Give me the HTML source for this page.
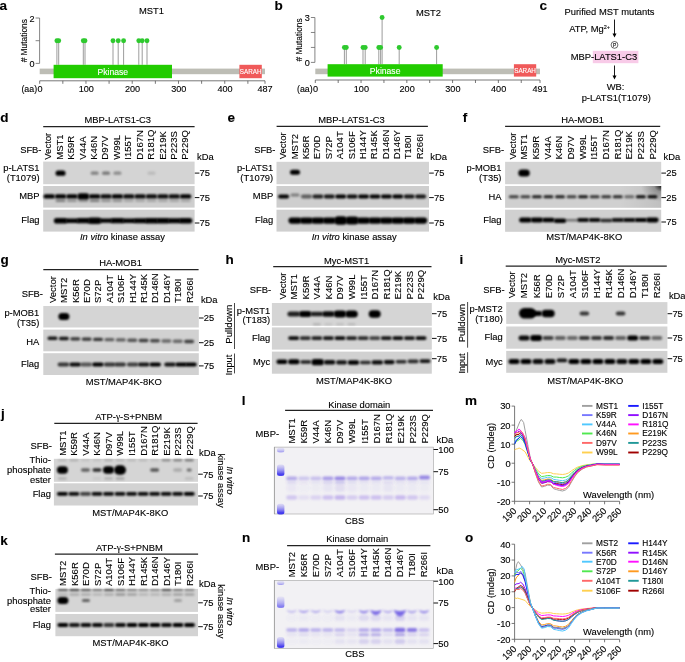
<!DOCTYPE html>
<html><head><meta charset="utf-8"><style>
html,body{margin:0;padding:0;background:#fff;width:685px;height:662px;overflow:hidden}
svg{display:block;filter:blur(0.3px)}
text{font-family:"Liberation Sans", sans-serif; stroke:#000; stroke-width:0.12px}
.w{stroke:#fff}
</style></head><body>
<svg width="685" height="662" viewBox="0 0 685 662" font-family='"Liberation Sans", sans-serif'>
<defs><linearGradient id="ladg" x1="0" y1="0" x2="0" y2="1"><stop offset="0" stop-color="#9a94f2" stop-opacity="0.25"/><stop offset="0.55" stop-color="#6a60ee" stop-opacity="0.75"/><stop offset="0.85" stop-color="#3c34ee" stop-opacity="1"/><stop offset="1" stop-color="#3c34ee" stop-opacity="0.9"/></linearGradient><filter id="b0_4" x="-50%" y="-100%" width="200%" height="300%"><feGaussianBlur stdDeviation="0.4"/></filter><filter id="b0_5" x="-50%" y="-100%" width="200%" height="300%"><feGaussianBlur stdDeviation="0.5"/></filter><filter id="b0_6" x="-50%" y="-100%" width="200%" height="300%"><feGaussianBlur stdDeviation="0.6"/></filter><filter id="b0_7" x="-50%" y="-100%" width="200%" height="300%"><feGaussianBlur stdDeviation="0.7"/></filter><filter id="b0_8" x="-50%" y="-100%" width="200%" height="300%"><feGaussianBlur stdDeviation="0.8"/></filter><filter id="b0_9" x="-50%" y="-100%" width="200%" height="300%"><feGaussianBlur stdDeviation="0.9"/></filter><filter id="b1_0" x="-50%" y="-100%" width="200%" height="300%"><feGaussianBlur stdDeviation="1.0"/></filter><filter id="b1_2" x="-50%" y="-100%" width="200%" height="300%"><feGaussianBlur stdDeviation="1.2"/></filter><filter id="b1_3" x="-50%" y="-100%" width="200%" height="300%"><feGaussianBlur stdDeviation="1.3"/></filter><filter id="b1_6" x="-50%" y="-100%" width="200%" height="300%"><feGaussianBlur stdDeviation="1.6"/></filter><filter id="b2_0" x="-50%" y="-100%" width="200%" height="300%"><feGaussianBlur stdDeviation="2.0"/></filter><radialGradient id="cornerF" cx="1" cy="0" r="1"><stop offset="0" stop-color="#000" stop-opacity="0.85"/><stop offset="0.35" stop-color="#000" stop-opacity="0.25"/><stop offset="1" stop-color="#000" stop-opacity="0"/></radialGradient><linearGradient id="shadeF" x1="0" y1="0" x2="1" y2="0"><stop offset="0" stop-color="#000" stop-opacity="0"/><stop offset="1" stop-color="#000" stop-opacity="0.08"/></linearGradient></defs>
<rect width="685" height="662" fill="#fff"/>
<text x="-0.50" y="9.60" font-size="13.5" font-weight="bold">a</text>
<text x="151.50" y="13.88" font-size="9.4" text-anchor="middle" fill="#000">MST1</text>
<line x1="39.60" y1="18.00" x2="39.60" y2="63.40" stroke="#666" stroke-width="0.8" />
<line x1="35.60" y1="63.40" x2="39.60" y2="63.40" stroke="#666" stroke-width="0.8" />
<line x1="35.60" y1="40.70" x2="39.60" y2="40.70" stroke="#666" stroke-width="0.8" />
<line x1="35.60" y1="18.00" x2="39.60" y2="18.00" stroke="#666" stroke-width="0.8" />
<text x="34.60" y="21.58" font-size="9.1" text-anchor="end" fill="#000">2</text>
<text x="34.60" y="66.88" font-size="9.1" text-anchor="end" fill="#000">0</text>
<text x="23.60" y="43.72" font-size="8.4" text-anchor="middle" fill="#000" transform="rotate(-90 23.60 40.70)"># Mutations</text>
<line x1="56.90" y1="40.70" x2="56.90" y2="64.80" stroke="#8a8a8a" stroke-width="0.85" />
<line x1="58.70" y1="40.70" x2="58.70" y2="64.80" stroke="#8a8a8a" stroke-width="0.85" />
<line x1="83.30" y1="40.70" x2="83.30" y2="64.80" stroke="#8a8a8a" stroke-width="0.85" />
<line x1="85.00" y1="40.70" x2="85.00" y2="64.80" stroke="#8a8a8a" stroke-width="0.85" />
<line x1="113.00" y1="40.70" x2="113.00" y2="64.80" stroke="#8a8a8a" stroke-width="0.85" />
<line x1="118.20" y1="40.70" x2="118.20" y2="64.80" stroke="#8a8a8a" stroke-width="0.85" />
<line x1="123.60" y1="40.70" x2="123.60" y2="64.80" stroke="#8a8a8a" stroke-width="0.85" />
<line x1="138.80" y1="40.70" x2="138.80" y2="64.80" stroke="#8a8a8a" stroke-width="0.85" />
<line x1="142.20" y1="40.70" x2="142.20" y2="64.80" stroke="#8a8a8a" stroke-width="0.85" />
<line x1="147.00" y1="40.70" x2="147.00" y2="64.80" stroke="#8a8a8a" stroke-width="0.85" />
<circle cx="56.90" cy="40.70" r="2.45" fill="#2ec92e" />
<circle cx="58.70" cy="40.70" r="2.45" fill="#2ec92e" />
<circle cx="83.30" cy="40.70" r="2.45" fill="#2ec92e" />
<circle cx="85.00" cy="40.70" r="2.45" fill="#2ec92e" />
<circle cx="113.00" cy="40.70" r="2.45" fill="#2ec92e" />
<circle cx="118.20" cy="40.70" r="2.45" fill="#2ec92e" />
<circle cx="123.60" cy="40.70" r="2.45" fill="#2ec92e" />
<circle cx="138.80" cy="40.70" r="2.45" fill="#2ec92e" />
<circle cx="142.20" cy="40.70" r="2.45" fill="#2ec92e" />
<circle cx="147.00" cy="40.70" r="2.45" fill="#2ec92e" />
<rect x="39.70" y="68.60" width="225.30" height="5.60" fill="#bdbdb5" />
<rect x="53.60" y="64.80" width="118.40" height="13.40" fill="#22cc00" />
<text x="112.80" y="74.60" font-size="8.6" text-anchor="middle" fill="#fff" style="stroke:#fff">Pkinase</text>
<rect x="239.40" y="64.80" width="22.40" height="13.40" fill="#f05a5a" />
<text x="250.60" y="73.77" font-size="6.3" text-anchor="middle" fill="#fff" style="stroke:#fff">SARAH</text>
<line x1="39.70" y1="80.80" x2="265.00" y2="80.80" stroke="#555" stroke-width="0.8" />
<line x1="39.70" y1="80.80" x2="39.70" y2="83.80" stroke="#555" stroke-width="0.8" />
<line x1="62.83" y1="80.80" x2="62.83" y2="83.80" stroke="#555" stroke-width="0.8" />
<line x1="85.96" y1="80.80" x2="85.96" y2="83.80" stroke="#555" stroke-width="0.8" />
<line x1="109.09" y1="80.80" x2="109.09" y2="83.80" stroke="#555" stroke-width="0.8" />
<line x1="132.23" y1="80.80" x2="132.23" y2="83.80" stroke="#555" stroke-width="0.8" />
<line x1="155.36" y1="80.80" x2="155.36" y2="83.80" stroke="#555" stroke-width="0.8" />
<line x1="178.49" y1="80.80" x2="178.49" y2="83.80" stroke="#555" stroke-width="0.8" />
<line x1="201.62" y1="80.80" x2="201.62" y2="83.80" stroke="#555" stroke-width="0.8" />
<line x1="224.75" y1="80.80" x2="224.75" y2="83.80" stroke="#555" stroke-width="0.8" />
<line x1="247.88" y1="80.80" x2="247.88" y2="83.80" stroke="#555" stroke-width="0.8" />
<line x1="265.00" y1="80.80" x2="265.00" y2="83.80" stroke="#555" stroke-width="0.8" />
<text x="40.00" y="92.18" font-size="9.1" text-anchor="middle" fill="#000">0</text>
<text x="86.26" y="92.18" font-size="9.1" text-anchor="middle" fill="#000">100</text>
<text x="132.53" y="92.18" font-size="9.1" text-anchor="middle" fill="#000">200</text>
<text x="178.79" y="92.18" font-size="9.1" text-anchor="middle" fill="#000">300</text>
<text x="225.05" y="92.18" font-size="9.1" text-anchor="middle" fill="#000">400</text>
<text x="265.00" y="92.18" font-size="9.1" text-anchor="middle" fill="#000">487</text>
<text x="37.10" y="91.77" font-size="8.8" text-anchor="end" fill="#000">(aa)</text>
<text x="274.50" y="9.60" font-size="13.5" font-weight="bold">b</text>
<text x="428.50" y="15.88" font-size="9.4" text-anchor="middle" fill="#000">MST2</text>
<line x1="314.90" y1="17.50" x2="314.90" y2="62.40" stroke="#666" stroke-width="0.8" />
<line x1="310.90" y1="62.40" x2="314.90" y2="62.40" stroke="#666" stroke-width="0.8" />
<line x1="310.90" y1="47.43" x2="314.90" y2="47.43" stroke="#666" stroke-width="0.8" />
<line x1="310.90" y1="32.47" x2="314.90" y2="32.47" stroke="#666" stroke-width="0.8" />
<line x1="310.90" y1="17.50" x2="314.90" y2="17.50" stroke="#666" stroke-width="0.8" />
<text x="309.90" y="21.08" font-size="9.1" text-anchor="end" fill="#000">3</text>
<text x="309.90" y="65.88" font-size="9.1" text-anchor="end" fill="#000">0</text>
<text x="298.90" y="42.97" font-size="8.4" text-anchor="middle" fill="#000" transform="rotate(-90 298.90 39.95)"># Mutations</text>
<line x1="344.40" y1="47.43" x2="344.40" y2="64.20" stroke="#8a8a8a" stroke-width="0.85" />
<line x1="346.30" y1="47.43" x2="346.30" y2="64.20" stroke="#8a8a8a" stroke-width="0.85" />
<line x1="363.00" y1="47.43" x2="363.00" y2="64.20" stroke="#8a8a8a" stroke-width="0.85" />
<line x1="365.20" y1="47.43" x2="365.20" y2="64.20" stroke="#8a8a8a" stroke-width="0.85" />
<line x1="378.80" y1="47.43" x2="378.80" y2="64.20" stroke="#8a8a8a" stroke-width="0.85" />
<line x1="380.60" y1="47.43" x2="380.60" y2="64.20" stroke="#8a8a8a" stroke-width="0.85" />
<line x1="382.10" y1="17.50" x2="382.10" y2="64.20" stroke="#8a8a8a" stroke-width="0.85" />
<line x1="399.20" y1="47.43" x2="399.20" y2="64.20" stroke="#8a8a8a" stroke-width="0.85" />
<line x1="436.60" y1="47.43" x2="436.60" y2="64.20" stroke="#8a8a8a" stroke-width="0.85" />
<circle cx="344.40" cy="47.43" r="2.45" fill="#2ec92e" />
<circle cx="346.30" cy="47.43" r="2.45" fill="#2ec92e" />
<circle cx="363.00" cy="47.43" r="2.45" fill="#2ec92e" />
<circle cx="365.20" cy="47.43" r="2.45" fill="#2ec92e" />
<circle cx="378.80" cy="47.43" r="2.45" fill="#2ec92e" />
<circle cx="380.60" cy="47.43" r="2.45" fill="#2ec92e" />
<circle cx="382.10" cy="17.50" r="2.45" fill="#2ec92e" />
<circle cx="399.20" cy="47.43" r="2.45" fill="#2ec92e" />
<circle cx="436.60" cy="47.43" r="2.45" fill="#2ec92e" />
<rect x="315.30" y="68.60" width="224.70" height="5.60" fill="#bdbdb5" />
<rect x="327.60" y="64.20" width="115.10" height="12.40" fill="#22cc00" />
<text x="385.15" y="73.50" font-size="8.6" text-anchor="middle" fill="#fff" style="stroke:#fff">Pkinase</text>
<rect x="513.90" y="64.20" width="22.30" height="12.40" fill="#f05a5a" />
<text x="525.05" y="72.67" font-size="6.3" text-anchor="middle" fill="#fff" style="stroke:#fff">SARAH</text>
<line x1="315.30" y1="80.00" x2="540.00" y2="80.00" stroke="#555" stroke-width="0.8" />
<line x1="315.30" y1="80.00" x2="315.30" y2="83.00" stroke="#555" stroke-width="0.8" />
<line x1="338.18" y1="80.00" x2="338.18" y2="83.00" stroke="#555" stroke-width="0.8" />
<line x1="361.06" y1="80.00" x2="361.06" y2="83.00" stroke="#555" stroke-width="0.8" />
<line x1="383.95" y1="80.00" x2="383.95" y2="83.00" stroke="#555" stroke-width="0.8" />
<line x1="406.83" y1="80.00" x2="406.83" y2="83.00" stroke="#555" stroke-width="0.8" />
<line x1="429.71" y1="80.00" x2="429.71" y2="83.00" stroke="#555" stroke-width="0.8" />
<line x1="452.59" y1="80.00" x2="452.59" y2="83.00" stroke="#555" stroke-width="0.8" />
<line x1="475.47" y1="80.00" x2="475.47" y2="83.00" stroke="#555" stroke-width="0.8" />
<line x1="498.35" y1="80.00" x2="498.35" y2="83.00" stroke="#555" stroke-width="0.8" />
<line x1="521.24" y1="80.00" x2="521.24" y2="83.00" stroke="#555" stroke-width="0.8" />
<line x1="540.00" y1="80.00" x2="540.00" y2="83.00" stroke="#555" stroke-width="0.8" />
<text x="315.60" y="92.18" font-size="9.1" text-anchor="middle" fill="#000">0</text>
<text x="361.36" y="92.18" font-size="9.1" text-anchor="middle" fill="#000">100</text>
<text x="407.13" y="92.18" font-size="9.1" text-anchor="middle" fill="#000">200</text>
<text x="452.89" y="92.18" font-size="9.1" text-anchor="middle" fill="#000">300</text>
<text x="498.65" y="92.18" font-size="9.1" text-anchor="middle" fill="#000">400</text>
<text x="540.00" y="92.18" font-size="9.1" text-anchor="middle" fill="#000">491</text>
<text x="312.70" y="91.77" font-size="8.8" text-anchor="end" fill="#000">(aa)</text>
<text x="539.60" y="9.50" font-size="13.5" font-weight="bold">c</text>
<text x="609.50" y="15.38" font-size="9.4" text-anchor="middle" fill="#000">Purified MST mutants</text>
<line x1="614.50" y1="19.50" x2="614.50" y2="34.50" stroke="#000" stroke-width="0.9" />
<path d="M612.50,33.50 L616.50,33.50 L614.50,37.50 Z" fill="#000"/>
<text x="569.2" y="31.90" font-size="9.4">ATP, Mg<tspan font-size="5.5" dy="-3.2">2+</tspan></text>
<circle cx="614.5" cy="44.9" r="3.4" fill="none" stroke="#000" stroke-width="0.6"/>
<text x="614.50" y="46.66" font-size="4.6" text-anchor="middle" fill="#000">P</text>
<rect x="592.80" y="50.80" width="45.60" height="12.40" fill="#f8cbe8" />
<text x="570.70" y="60.18" font-size="9.4" text-anchor="start" fill="#000">MBP-LATS1-C3</text>
<line x1="614.50" y1="65.50" x2="614.50" y2="76.60" stroke="#000" stroke-width="0.9" />
<path d="M612.50,75.60 L616.50,75.60 L614.50,79.60 Z" fill="#000"/>
<text x="615.60" y="90.28" font-size="9.4" text-anchor="middle" fill="#000">WB:</text>
<text x="616.20" y="101.18" font-size="9.4" text-anchor="middle" fill="#000">p-LATS1(T1079)</text>
<text x="0.30" y="121.90" font-size="13.5" font-weight="bold">d</text>
<text x="117.80" y="123.18" font-size="9.4" text-anchor="middle" fill="#000">MBP-LATS1-C3</text>
<line x1="43.20" y1="126.50" x2="194.60" y2="126.50" stroke="#222" stroke-width="1.25" />
<text x="41.50" y="153.08" font-size="9.4" text-anchor="end" fill="#000">SFB-</text>
<text x="51.42" y="159.70" font-size="9.5" text-anchor="start" transform="rotate(-90 51.42 159.70)">Vector</text>
<text x="62.84" y="159.70" font-size="9.5" text-anchor="start" transform="rotate(-90 62.84 159.70)">MST1</text>
<text x="74.25" y="159.70" font-size="9.5" text-anchor="start" transform="rotate(-90 74.25 159.70)">K59R</text>
<text x="85.67" y="159.70" font-size="9.5" text-anchor="start" transform="rotate(-90 85.67 159.70)">V44A</text>
<text x="97.09" y="159.70" font-size="9.5" text-anchor="start" transform="rotate(-90 97.09 159.70)">K46N</text>
<text x="108.50" y="159.70" font-size="9.5" text-anchor="start" transform="rotate(-90 108.50 159.70)">D97V</text>
<text x="119.92" y="159.70" font-size="9.5" text-anchor="start" transform="rotate(-90 119.92 159.70)">W99L</text>
<text x="131.34" y="159.70" font-size="9.5" text-anchor="start" transform="rotate(-90 131.34 159.70)">I155T</text>
<text x="142.75" y="159.70" font-size="9.5" text-anchor="start" transform="rotate(-90 142.75 159.70)">D167N</text>
<text x="154.17" y="159.70" font-size="9.5" text-anchor="start" transform="rotate(-90 154.17 159.70)">R181Q</text>
<text x="165.59" y="159.70" font-size="9.5" text-anchor="start" transform="rotate(-90 165.59 159.70)">E219K</text>
<text x="177.00" y="159.70" font-size="9.5" text-anchor="start" transform="rotate(-90 177.00 159.70)">P223S</text>
<text x="188.42" y="159.70" font-size="9.5" text-anchor="start" transform="rotate(-90 188.42 159.70)">P229Q</text>
<text x="197.00" y="159.58" font-size="9.4" text-anchor="start" fill="#000">kDa</text>
<rect x="43.20" y="161.60" width="151.40" height="22.60" fill="#d4d4d4" />
<text x="39.60" y="171.48" font-size="9.4" text-anchor="end" fill="#000">p-LATS1</text>
<text x="39.60" y="180.98" font-size="9.4" text-anchor="end" fill="#000">(T1079)</text>
<line x1="194.80" y1="173.10" x2="199.40" y2="173.10" stroke="#111" stroke-width="1.0" />
<text x="199.60" y="176.48" font-size="9.4" text-anchor="start" fill="#000">75</text>
<rect x="55.57" y="170.60" width="10.00" height="5.20" rx="2.60" fill="rgb(0,0,0)" filter="url(#b0_8)"/>
<rect x="90.67" y="171.60" width="8.00" height="3.20" rx="1.60" fill="rgb(0,0,0)" fill-opacity="0.400" filter="url(#b0_8)"/>
<rect x="102.03" y="171.60" width="8.00" height="3.20" rx="1.60" fill="rgb(0,0,0)" fill-opacity="0.450" filter="url(#b0_8)"/>
<rect x="113.40" y="171.60" width="8.00" height="3.20" rx="1.60" fill="rgb(0,0,0)" fill-opacity="0.350" filter="url(#b0_8)"/>
<rect x="147.50" y="171.60" width="8.00" height="3.20" rx="1.60" fill="rgb(0,0,0)" fill-opacity="0.120" filter="url(#b0_8)"/>
<rect x="43.20" y="186.00" width="151.40" height="21.60" fill="#cecece" />
<text x="39.60" y="199.38" font-size="9.4" text-anchor="end" fill="#000">MBP</text>
<line x1="194.80" y1="197.60" x2="199.40" y2="197.60" stroke="#111" stroke-width="1.0" />
<text x="199.60" y="200.98" font-size="9.4" text-anchor="start" fill="#000">75</text>
<rect x="43.45" y="194.20" width="11.50" height="4.40" rx="2.20" fill="rgb(0,0,0)" filter="url(#b0_8)"/>
<rect x="54.82" y="194.20" width="11.50" height="4.40" rx="2.20" fill="rgb(0,0,0)" filter="url(#b0_8)"/>
<rect x="66.18" y="194.20" width="11.50" height="4.40" rx="2.20" fill="rgb(0,0,0)" filter="url(#b0_8)"/>
<rect x="77.30" y="193.30" width="12.00" height="6.20" rx="3.10" fill="rgb(0,0,0)" filter="url(#b0_8)"/>
<rect x="88.92" y="194.20" width="11.50" height="4.40" rx="2.20" fill="rgb(0,0,0)" filter="url(#b0_8)"/>
<rect x="100.28" y="194.20" width="11.50" height="4.40" rx="2.20" fill="rgb(0,0,0)" fill-opacity="0.950" filter="url(#b0_8)"/>
<rect x="111.65" y="194.20" width="11.50" height="4.40" rx="2.20" fill="rgb(0,0,0)" filter="url(#b0_8)"/>
<rect x="123.02" y="194.20" width="11.50" height="4.40" rx="2.20" fill="rgb(0,0,0)" fill-opacity="0.950" filter="url(#b0_8)"/>
<rect x="134.38" y="194.20" width="11.50" height="4.40" rx="2.20" fill="rgb(0,0,0)" fill-opacity="0.950" filter="url(#b0_8)"/>
<rect x="145.75" y="194.20" width="11.50" height="4.40" rx="2.20" fill="rgb(0,0,0)" fill-opacity="0.950" filter="url(#b0_8)"/>
<rect x="157.12" y="194.20" width="11.50" height="4.40" rx="2.20" fill="rgb(0,0,0)" fill-opacity="0.950" filter="url(#b0_8)"/>
<rect x="168.48" y="194.20" width="11.50" height="4.40" rx="2.20" fill="rgb(0,0,0)" fill-opacity="0.950" filter="url(#b0_8)"/>
<rect x="179.85" y="194.20" width="11.50" height="4.40" rx="2.20" fill="rgb(0,0,0)" filter="url(#b0_8)"/>
<rect x="55.57" y="199.55" width="10.00" height="2.50" rx="1.25" fill="rgb(0,0,0)" fill-opacity="0.400" filter="url(#b1_0)"/>
<rect x="66.93" y="199.55" width="10.00" height="2.50" rx="1.25" fill="rgb(0,0,0)" fill-opacity="0.300" filter="url(#b1_0)"/>
<rect x="78.30" y="199.55" width="10.00" height="2.50" rx="1.25" fill="rgb(0,0,0)" fill-opacity="0.300" filter="url(#b1_0)"/>
<rect x="89.67" y="199.55" width="10.00" height="2.50" rx="1.25" fill="rgb(0,0,0)" fill-opacity="0.400" filter="url(#b1_0)"/>
<rect x="101.03" y="199.55" width="10.00" height="2.50" rx="1.25" fill="rgb(0,0,0)" fill-opacity="0.300" filter="url(#b1_0)"/>
<rect x="112.40" y="199.55" width="10.00" height="2.50" rx="1.25" fill="rgb(0,0,0)" fill-opacity="0.300" filter="url(#b1_0)"/>
<rect x="123.77" y="199.55" width="10.00" height="2.50" rx="1.25" fill="rgb(0,0,0)" fill-opacity="0.200" filter="url(#b1_0)"/>
<rect x="135.13" y="199.55" width="10.00" height="2.50" rx="1.25" fill="rgb(0,0,0)" fill-opacity="0.200" filter="url(#b1_0)"/>
<rect x="146.50" y="199.55" width="10.00" height="2.50" rx="1.25" fill="rgb(0,0,0)" fill-opacity="0.200" filter="url(#b1_0)"/>
<rect x="157.87" y="199.55" width="10.00" height="2.50" rx="1.25" fill="rgb(0,0,0)" fill-opacity="0.200" filter="url(#b1_0)"/>
<rect x="169.23" y="199.55" width="10.00" height="2.50" rx="1.25" fill="rgb(0,0,0)" fill-opacity="0.200" filter="url(#b1_0)"/>
<rect x="180.60" y="199.55" width="10.00" height="2.50" rx="1.25" fill="rgb(0,0,0)" fill-opacity="0.200" filter="url(#b1_0)"/>
<rect x="43.20" y="209.70" width="151.40" height="21.90" fill="#cfcfcf" />
<text x="39.60" y="222.58" font-size="9.4" text-anchor="end" fill="#000">Flag</text>
<line x1="194.80" y1="223.00" x2="199.40" y2="223.00" stroke="#111" stroke-width="1.0" />
<text x="199.60" y="226.38" font-size="9.4" text-anchor="start" fill="#000">75</text>
<rect x="53.82" y="217.90" width="13.50" height="5.60" rx="2.80" fill="rgb(0,0,0)" filter="url(#b0_8)"/>
<rect x="65.18" y="218.40" width="13.50" height="4.60" rx="2.30" fill="rgb(0,0,0)" filter="url(#b0_8)"/>
<rect x="76.55" y="218.10" width="13.50" height="5.20" rx="2.60" fill="rgb(0,0,0)" filter="url(#b0_8)"/>
<rect x="87.92" y="217.50" width="13.50" height="6.40" rx="3.20" fill="rgb(0,0,0)" filter="url(#b0_8)"/>
<rect x="99.28" y="218.60" width="13.50" height="4.20" rx="2.10" fill="rgb(0,0,0)" filter="url(#b0_8)"/>
<rect x="110.65" y="218.10" width="13.50" height="5.20" rx="2.60" fill="rgb(0,0,0)" filter="url(#b0_8)"/>
<rect x="122.02" y="218.50" width="13.50" height="4.40" rx="2.20" fill="rgb(0,0,0)" filter="url(#b0_8)"/>
<rect x="133.38" y="218.20" width="13.50" height="5.00" rx="2.50" fill="rgb(0,0,0)" filter="url(#b0_8)"/>
<rect x="144.75" y="217.90" width="13.50" height="5.60" rx="2.80" fill="rgb(0,0,0)" filter="url(#b0_8)"/>
<rect x="156.12" y="218.00" width="13.50" height="5.40" rx="2.70" fill="rgb(0,0,0)" filter="url(#b0_8)"/>
<rect x="167.48" y="218.20" width="13.50" height="5.00" rx="2.50" fill="rgb(0,0,0)" filter="url(#b0_8)"/>
<rect x="178.85" y="218.00" width="13.50" height="5.40" rx="2.70" fill="rgb(0,0,0)" filter="url(#b0_8)"/>
<text x="80" y="239.9" font-size="9.4"><tspan font-style="italic">In vitro</tspan> kinase assay</text>
<text x="227.50" y="122.30" font-size="13.5" font-weight="bold">e</text>
<text x="351.50" y="122.98" font-size="9.4" text-anchor="middle" fill="#000">MBP-LATS1-C3</text>
<line x1="276.60" y1="126.30" x2="427.90" y2="126.30" stroke="#222" stroke-width="1.25" />
<text x="275.50" y="153.08" font-size="9.4" text-anchor="end" fill="#000">SFB-</text>
<text x="286.42" y="159.30" font-size="9.5" text-anchor="start" transform="rotate(-90 286.42 159.30)">Vector</text>
<text x="297.78" y="159.30" font-size="9.5" text-anchor="start" transform="rotate(-90 297.78 159.30)">MST2</text>
<text x="309.14" y="159.30" font-size="9.5" text-anchor="start" transform="rotate(-90 309.14 159.30)">K56R</text>
<text x="320.50" y="159.30" font-size="9.5" text-anchor="start" transform="rotate(-90 320.50 159.30)">E70D</text>
<text x="331.85" y="159.30" font-size="9.5" text-anchor="start" transform="rotate(-90 331.85 159.30)">S72P</text>
<text x="343.21" y="159.30" font-size="9.5" text-anchor="start" transform="rotate(-90 343.21 159.30)">A104T</text>
<text x="354.57" y="159.30" font-size="9.5" text-anchor="start" transform="rotate(-90 354.57 159.30)">S106F</text>
<text x="365.93" y="159.30" font-size="9.5" text-anchor="start" transform="rotate(-90 365.93 159.30)">H144Y</text>
<text x="377.29" y="159.30" font-size="9.5" text-anchor="start" transform="rotate(-90 377.29 159.30)">R145K</text>
<text x="388.65" y="159.30" font-size="9.5" text-anchor="start" transform="rotate(-90 388.65 159.30)">D146N</text>
<text x="400.00" y="159.30" font-size="9.5" text-anchor="start" transform="rotate(-90 400.00 159.30)">D146Y</text>
<text x="411.36" y="159.30" font-size="9.5" text-anchor="start" transform="rotate(-90 411.36 159.30)">T180I</text>
<text x="422.72" y="159.30" font-size="9.5" text-anchor="start" transform="rotate(-90 422.72 159.30)">R266I</text>
<text x="430.30" y="159.58" font-size="9.4" text-anchor="start" fill="#000">kDa</text>
<rect x="276.50" y="161.80" width="152.50" height="22.40" fill="#d4d4d4" />
<text x="273.20" y="171.48" font-size="9.4" text-anchor="end" fill="#000">p-LATS1</text>
<text x="273.20" y="180.98" font-size="9.4" text-anchor="end" fill="#000">(T1079)</text>
<line x1="429.20" y1="173.10" x2="433.80" y2="173.10" stroke="#111" stroke-width="1.0" />
<text x="434.00" y="176.48" font-size="9.4" text-anchor="start" fill="#000">75</text>
<rect x="290.02" y="169.70" width="10.00" height="5.00" rx="2.50" fill="rgb(0,0,0)" filter="url(#b0_8)"/>
<rect x="276.50" y="186.00" width="152.50" height="21.60" fill="#cecece" />
<text x="273.20" y="199.38" font-size="9.4" text-anchor="end" fill="#000">MBP</text>
<line x1="429.20" y1="197.60" x2="433.80" y2="197.60" stroke="#111" stroke-width="1.0" />
<text x="434.00" y="200.98" font-size="9.4" text-anchor="start" fill="#000">75</text>
<rect x="278.10" y="194.60" width="11.00" height="4.00" rx="2.00" fill="rgb(0,0,0)" filter="url(#b0_8)"/>
<rect x="290.52" y="193.60" width="9.00" height="3.00" rx="1.50" fill="rgb(0,0,0)" fill-opacity="0.400" filter="url(#b0_8)"/>
<rect x="300.93" y="194.60" width="11.00" height="4.00" rx="2.00" fill="rgb(0,0,0)" fill-opacity="0.550" filter="url(#b0_8)"/>
<rect x="312.35" y="194.60" width="11.00" height="4.00" rx="2.00" fill="rgb(0,0,0)" fill-opacity="0.850" filter="url(#b0_8)"/>
<rect x="323.77" y="194.60" width="11.00" height="4.00" rx="2.00" fill="rgb(0,0,0)" fill-opacity="0.900" filter="url(#b0_8)"/>
<rect x="335.18" y="194.60" width="11.00" height="4.00" rx="2.00" fill="rgb(0,0,0)" filter="url(#b0_8)"/>
<rect x="346.60" y="194.60" width="11.00" height="4.00" rx="2.00" fill="rgb(0,0,0)" fill-opacity="0.950" filter="url(#b0_8)"/>
<rect x="358.02" y="194.60" width="11.00" height="4.00" rx="2.00" fill="rgb(0,0,0)" filter="url(#b0_8)"/>
<rect x="369.43" y="194.60" width="11.00" height="4.00" rx="2.00" fill="rgb(0,0,0)" filter="url(#b0_8)"/>
<rect x="380.85" y="194.60" width="11.00" height="4.00" rx="2.00" fill="rgb(0,0,0)" filter="url(#b0_8)"/>
<rect x="392.27" y="194.60" width="11.00" height="4.00" rx="2.00" fill="rgb(0,0,0)" filter="url(#b0_8)"/>
<rect x="403.68" y="194.60" width="11.00" height="4.00" rx="2.00" fill="rgb(0,0,0)" fill-opacity="0.900" filter="url(#b0_8)"/>
<rect x="415.10" y="194.60" width="11.00" height="4.00" rx="2.00" fill="rgb(0,0,0)" fill-opacity="0.900" filter="url(#b0_8)"/>
<rect x="276.50" y="209.70" width="152.50" height="21.90" fill="#cfcfcf" />
<text x="273.20" y="222.58" font-size="9.4" text-anchor="end" fill="#000">Flag</text>
<line x1="429.20" y1="223.00" x2="433.80" y2="223.00" stroke="#111" stroke-width="1.0" />
<text x="434.00" y="226.38" font-size="9.4" text-anchor="start" fill="#000">75</text>
<rect x="288.42" y="217.50" width="13.20" height="6.20" rx="3.10" fill="rgb(0,0,0)" filter="url(#b0_8)"/>
<rect x="299.83" y="217.50" width="13.20" height="6.20" rx="3.10" fill="rgb(0,0,0)" filter="url(#b0_8)"/>
<rect x="311.25" y="217.50" width="13.20" height="6.20" rx="3.10" fill="rgb(0,0,0)" filter="url(#b0_8)"/>
<rect x="322.67" y="217.50" width="13.20" height="6.20" rx="3.10" fill="rgb(0,0,0)" filter="url(#b0_8)"/>
<rect x="333.93" y="216.35" width="13.50" height="8.50" rx="4.25" fill="rgb(0,0,0)" filter="url(#b0_8)"/>
<rect x="345.35" y="216.60" width="13.50" height="8.00" rx="4.00" fill="rgb(0,0,0)" filter="url(#b0_8)"/>
<rect x="356.92" y="217.50" width="13.20" height="6.20" rx="3.10" fill="rgb(0,0,0)" filter="url(#b0_8)"/>
<rect x="368.33" y="217.50" width="13.20" height="6.20" rx="3.10" fill="rgb(0,0,0)" filter="url(#b0_8)"/>
<rect x="379.75" y="217.50" width="13.20" height="6.20" rx="3.10" fill="rgb(0,0,0)" filter="url(#b0_8)"/>
<rect x="391.17" y="217.50" width="13.20" height="6.20" rx="3.10" fill="rgb(0,0,0)" filter="url(#b0_8)"/>
<rect x="402.58" y="217.50" width="13.20" height="6.20" rx="3.10" fill="rgb(0,0,0)" filter="url(#b0_8)"/>
<rect x="414.00" y="217.50" width="13.20" height="6.20" rx="3.10" fill="rgb(0,0,0)" filter="url(#b0_8)"/>
<text x="311.7" y="239.9" font-size="9.4"><tspan font-style="italic">In vitro</tspan> kinase assay</text>
<text x="462.80" y="122.00" font-size="13.5" font-weight="bold">f</text>
<text x="582.50" y="122.98" font-size="9.4" text-anchor="middle" fill="#000">HA-MOB1</text>
<line x1="505.10" y1="126.30" x2="660.20" y2="126.30" stroke="#222" stroke-width="1.25" />
<text x="504.20" y="153.08" font-size="9.4" text-anchor="end" fill="#000">SFB-</text>
<text x="515.82" y="159.60" font-size="9.5" text-anchor="start" transform="rotate(-90 515.82 159.60)">Vector</text>
<text x="527.47" y="159.60" font-size="9.5" text-anchor="start" transform="rotate(-90 527.47 159.60)">MST1</text>
<text x="539.12" y="159.60" font-size="9.5" text-anchor="start" transform="rotate(-90 539.12 159.60)">K59R</text>
<text x="550.77" y="159.60" font-size="9.5" text-anchor="start" transform="rotate(-90 550.77 159.60)">V44A</text>
<text x="562.42" y="159.60" font-size="9.5" text-anchor="start" transform="rotate(-90 562.42 159.60)">K46N</text>
<text x="574.07" y="159.60" font-size="9.5" text-anchor="start" transform="rotate(-90 574.07 159.60)">D97V</text>
<text x="585.72" y="159.60" font-size="9.5" text-anchor="start" transform="rotate(-90 585.72 159.60)">W99L</text>
<text x="597.37" y="159.60" font-size="9.5" text-anchor="start" transform="rotate(-90 597.37 159.60)">I155T</text>
<text x="609.02" y="159.60" font-size="9.5" text-anchor="start" transform="rotate(-90 609.02 159.60)">D167N</text>
<text x="620.67" y="159.60" font-size="9.5" text-anchor="start" transform="rotate(-90 620.67 159.60)">R181Q</text>
<text x="632.32" y="159.60" font-size="9.5" text-anchor="start" transform="rotate(-90 632.32 159.60)">E219K</text>
<text x="643.97" y="159.60" font-size="9.5" text-anchor="start" transform="rotate(-90 643.97 159.60)">P223S</text>
<text x="655.62" y="159.60" font-size="9.5" text-anchor="start" transform="rotate(-90 655.62 159.60)">P229Q</text>
<text x="663.50" y="159.58" font-size="9.4" text-anchor="start" fill="#000">kDa</text>
<rect x="505.10" y="161.80" width="156.10" height="22.40" fill="#d4d4d4" />
<text x="501.50" y="171.48" font-size="9.4" text-anchor="end" fill="#000">p-MOB1</text>
<text x="501.50" y="180.98" font-size="9.4" text-anchor="end" fill="#000">(T35)</text>
<line x1="661.40" y1="173.10" x2="666.00" y2="173.10" stroke="#111" stroke-width="1.0" />
<text x="666.20" y="176.48" font-size="9.4" text-anchor="start" fill="#000">25</text>
<rect x="518.30" y="169.50" width="11.50" height="7.00" rx="3.50" fill="rgb(0,0,0)" filter="url(#b0_8)"/>
<rect x="505.10" y="186.00" width="156.10" height="21.80" fill="#d0d0d0" />
<text x="501.50" y="200.18" font-size="9.4" text-anchor="end" fill="#000">HA</text>
<line x1="661.40" y1="197.60" x2="666.00" y2="197.60" stroke="#111" stroke-width="1.0" />
<text x="666.20" y="200.98" font-size="9.4" text-anchor="start" fill="#000">25</text>
<rect x="508.80" y="195.25" width="10.00" height="3.10" rx="1.55" fill="rgb(0,0,0)" fill-opacity="0.700" filter="url(#b0_8)"/>
<rect x="520.35" y="195.25" width="10.00" height="3.10" rx="1.55" fill="rgb(0,0,0)" fill-opacity="0.700" filter="url(#b0_8)"/>
<rect x="531.90" y="195.25" width="10.00" height="3.10" rx="1.55" fill="rgb(0,0,0)" fill-opacity="0.850" filter="url(#b0_8)"/>
<rect x="543.45" y="195.25" width="10.00" height="3.10" rx="1.55" fill="rgb(0,0,0)" fill-opacity="0.850" filter="url(#b0_8)"/>
<rect x="555.00" y="195.25" width="10.00" height="3.10" rx="1.55" fill="rgb(0,0,0)" fill-opacity="0.850" filter="url(#b0_8)"/>
<rect x="566.55" y="195.25" width="10.00" height="3.10" rx="1.55" fill="rgb(0,0,0)" fill-opacity="0.700" filter="url(#b0_8)"/>
<rect x="578.10" y="195.25" width="10.00" height="3.10" rx="1.55" fill="rgb(0,0,0)" fill-opacity="0.900" filter="url(#b0_8)"/>
<rect x="589.65" y="195.25" width="10.00" height="3.10" rx="1.55" fill="rgb(0,0,0)" fill-opacity="0.750" filter="url(#b0_8)"/>
<rect x="601.20" y="195.25" width="10.00" height="3.10" rx="1.55" fill="rgb(0,0,0)" fill-opacity="0.750" filter="url(#b0_8)"/>
<rect x="612.75" y="195.25" width="10.00" height="3.10" rx="1.55" fill="rgb(0,0,0)" fill-opacity="0.800" filter="url(#b0_8)"/>
<rect x="624.30" y="195.25" width="10.00" height="3.10" rx="1.55" fill="rgb(0,0,0)" fill-opacity="0.500" filter="url(#b0_8)"/>
<rect x="635.85" y="195.25" width="10.00" height="3.10" rx="1.55" fill="rgb(0,0,0)" fill-opacity="0.950" filter="url(#b0_8)"/>
<rect x="647.40" y="195.25" width="10.00" height="3.10" rx="1.55" fill="rgb(0,0,0)" filter="url(#b0_8)"/>
<rect x="505.10" y="209.70" width="156.10" height="22.10" fill="#d0d0d0" />
<text x="501.50" y="222.58" font-size="9.4" text-anchor="end" fill="#000">Flag</text>
<line x1="661.40" y1="222.00" x2="666.00" y2="222.00" stroke="#111" stroke-width="1.0" />
<text x="666.20" y="225.38" font-size="9.4" text-anchor="start" fill="#000">75</text>
<rect x="519.10" y="217.50" width="12.50" height="5.00" rx="2.50" fill="rgb(0,0,0)" filter="url(#b0_8)"/>
<rect x="530.65" y="217.60" width="12.50" height="4.80" rx="2.40" fill="rgb(0,0,0)" filter="url(#b0_8)"/>
<rect x="542.20" y="217.70" width="12.50" height="4.60" rx="2.30" fill="rgb(0,0,0)" filter="url(#b0_8)"/>
<rect x="553.75" y="218.50" width="12.50" height="4.60" rx="2.30" fill="rgb(0,0,0)" filter="url(#b0_8)"/>
<rect x="565.55" y="219.00" width="12.00" height="2.60" rx="1.30" fill="rgb(0,0,0)" fill-opacity="0.450" filter="url(#b0_8)"/>
<rect x="577.10" y="218.10" width="12.00" height="3.80" rx="1.90" fill="rgb(0,0,0)" fill-opacity="0.950" filter="url(#b0_8)"/>
<rect x="588.65" y="218.00" width="12.00" height="4.00" rx="2.00" fill="rgb(0,0,0)" fill-opacity="0.950" filter="url(#b0_8)"/>
<rect x="600.20" y="218.80" width="12.00" height="3.40" rx="1.70" fill="rgb(0,0,0)" fill-opacity="0.800" filter="url(#b0_8)"/>
<rect x="611.50" y="218.00" width="12.50" height="4.00" rx="2.00" fill="rgb(0,0,0)" fill-opacity="0.900" filter="url(#b0_8)"/>
<rect x="623.05" y="218.00" width="12.50" height="4.00" rx="2.00" fill="rgb(0,0,0)" fill-opacity="0.950" filter="url(#b0_8)"/>
<rect x="634.60" y="218.00" width="12.50" height="4.00" rx="2.00" fill="rgb(0,0,0)" filter="url(#b0_8)"/>
<rect x="646.15" y="217.60" width="12.50" height="4.80" rx="2.40" fill="rgb(0,0,0)" filter="url(#b0_8)"/>
<text x="584.20" y="240.48" font-size="9.4" text-anchor="middle" fill="#000">MST/MAP4K-8KO</text>
<rect x="620" y="186.0" width="41.2" height="21.8" fill="url(#shadeF)"/>
<rect x="641" y="186.0" width="20.2" height="16" fill="url(#cornerF)"/>
<text x="0.40" y="263.90" font-size="13.5" font-weight="bold">g</text>
<text x="120.50" y="266.38" font-size="9.4" text-anchor="middle" fill="#000">HA-MOB1</text>
<line x1="43.30" y1="269.70" x2="198.60" y2="269.70" stroke="#222" stroke-width="1.25" />
<text x="43.00" y="297.38" font-size="9.4" text-anchor="end" fill="#000">SFB-</text>
<text x="55.92" y="303.00" font-size="9.5" text-anchor="start" transform="rotate(-90 55.92 303.00)">Vector</text>
<text x="67.30" y="303.00" font-size="9.5" text-anchor="start" transform="rotate(-90 67.30 303.00)">MST2</text>
<text x="78.69" y="303.00" font-size="9.5" text-anchor="start" transform="rotate(-90 78.69 303.00)">K56R</text>
<text x="90.07" y="303.00" font-size="9.5" text-anchor="start" transform="rotate(-90 90.07 303.00)">E70D</text>
<text x="101.45" y="303.00" font-size="9.5" text-anchor="start" transform="rotate(-90 101.45 303.00)">S72P</text>
<text x="112.84" y="303.00" font-size="9.5" text-anchor="start" transform="rotate(-90 112.84 303.00)">A104T</text>
<text x="124.22" y="303.00" font-size="9.5" text-anchor="start" transform="rotate(-90 124.22 303.00)">S106F</text>
<text x="135.60" y="303.00" font-size="9.5" text-anchor="start" transform="rotate(-90 135.60 303.00)">H144Y</text>
<text x="146.99" y="303.00" font-size="9.5" text-anchor="start" transform="rotate(-90 146.99 303.00)">R145K</text>
<text x="158.37" y="303.00" font-size="9.5" text-anchor="start" transform="rotate(-90 158.37 303.00)">D146N</text>
<text x="169.75" y="303.00" font-size="9.5" text-anchor="start" transform="rotate(-90 169.75 303.00)">D146Y</text>
<text x="181.14" y="303.00" font-size="9.5" text-anchor="start" transform="rotate(-90 181.14 303.00)">T180I</text>
<text x="192.52" y="303.00" font-size="9.5" text-anchor="start" transform="rotate(-90 192.52 303.00)">R266I</text>
<text x="200.90" y="303.38" font-size="9.4" text-anchor="start" fill="#000">kDa</text>
<rect x="43.30" y="306.00" width="155.50" height="21.50" fill="#d5d5d5" />
<text x="39.30" y="316.38" font-size="9.4" text-anchor="end" fill="#000">p-MOB1</text>
<text x="39.30" y="325.58" font-size="9.4" text-anchor="end" fill="#000">(T35)</text>
<line x1="199.00" y1="318.00" x2="203.60" y2="318.00" stroke="#111" stroke-width="1.0" />
<text x="203.80" y="321.38" font-size="9.4" text-anchor="start" fill="#000">25</text>
<rect x="58.38" y="312.90" width="11.00" height="7.00" rx="3.50" fill="rgb(0,0,0)" filter="url(#b0_8)"/>
<rect x="43.30" y="329.60" width="155.50" height="21.70" fill="#d1d1d1" />
<text x="39.30" y="344.58" font-size="9.4" text-anchor="end" fill="#000">HA</text>
<line x1="199.00" y1="342.70" x2="203.60" y2="342.70" stroke="#111" stroke-width="1.0" />
<text x="203.80" y="346.08" font-size="9.4" text-anchor="start" fill="#000">25</text>
<rect x="47.50" y="336.60" width="10.00" height="3.40" rx="1.70" fill="rgb(0,0,0)" fill-opacity="0.900" filter="url(#b0_8)"/>
<rect x="58.88" y="336.87" width="10.00" height="3.40" rx="1.70" fill="rgb(0,0,0)" fill-opacity="0.900" filter="url(#b0_8)"/>
<rect x="70.27" y="337.14" width="10.00" height="3.40" rx="1.70" fill="rgb(0,0,0)" fill-opacity="0.750" filter="url(#b0_8)"/>
<rect x="81.65" y="337.41" width="10.00" height="3.40" rx="1.70" fill="rgb(0,0,0)" fill-opacity="0.750" filter="url(#b0_8)"/>
<rect x="93.03" y="337.68" width="10.00" height="3.40" rx="1.70" fill="rgb(0,0,0)" fill-opacity="0.750" filter="url(#b0_8)"/>
<rect x="104.42" y="337.95" width="10.00" height="3.40" rx="1.70" fill="rgb(0,0,0)" fill-opacity="0.550" filter="url(#b0_8)"/>
<rect x="115.80" y="338.22" width="10.00" height="3.40" rx="1.70" fill="rgb(0,0,0)" fill-opacity="0.550" filter="url(#b0_8)"/>
<rect x="127.18" y="338.49" width="10.00" height="3.40" rx="1.70" fill="rgb(0,0,0)" fill-opacity="0.600" filter="url(#b0_8)"/>
<rect x="138.57" y="338.76" width="10.00" height="3.40" rx="1.70" fill="rgb(0,0,0)" fill-opacity="0.700" filter="url(#b0_8)"/>
<rect x="149.95" y="339.03" width="10.00" height="3.40" rx="1.70" fill="rgb(0,0,0)" fill-opacity="0.650" filter="url(#b0_8)"/>
<rect x="161.33" y="339.30" width="10.00" height="3.40" rx="1.70" fill="rgb(0,0,0)" fill-opacity="0.500" filter="url(#b0_8)"/>
<rect x="172.72" y="339.57" width="10.00" height="3.40" rx="1.70" fill="rgb(0,0,0)" fill-opacity="0.500" filter="url(#b0_8)"/>
<rect x="184.10" y="339.84" width="10.00" height="3.40" rx="1.70" fill="rgb(0,0,0)" fill-opacity="0.700" filter="url(#b0_8)"/>
<rect x="43.30" y="353.20" width="155.50" height="21.80" fill="#d1d1d1" />
<text x="39.30" y="367.18" font-size="9.4" text-anchor="end" fill="#000">Flag</text>
<line x1="199.00" y1="365.90" x2="203.60" y2="365.90" stroke="#111" stroke-width="1.0" />
<text x="203.80" y="369.28" font-size="9.4" text-anchor="start" fill="#000">75</text>
<rect x="57.65" y="362.40" width="11.50" height="4.00" rx="2.00" fill="rgb(0,0,0)" fill-opacity="0.750" filter="url(#b0_8)"/>
<rect x="69.35" y="362.40" width="11.50" height="4.00" rx="2.00" fill="rgb(0,0,0)" fill-opacity="0.950" filter="url(#b0_8)"/>
<rect x="80.45" y="362.40" width="11.50" height="4.00" rx="2.00" fill="rgb(0,0,0)" fill-opacity="0.600" filter="url(#b0_8)"/>
<rect x="92.15" y="362.40" width="11.50" height="4.00" rx="2.00" fill="rgb(0,0,0)" filter="url(#b0_8)"/>
<rect x="103.85" y="362.40" width="11.50" height="4.00" rx="2.00" fill="rgb(0,0,0)" fill-opacity="0.750" filter="url(#b0_8)"/>
<rect x="114.45" y="362.40" width="11.50" height="4.00" rx="2.00" fill="rgb(0,0,0)" fill-opacity="0.750" filter="url(#b0_8)"/>
<rect x="126.85" y="362.40" width="11.50" height="4.00" rx="2.00" fill="rgb(0,0,0)" fill-opacity="0.700" filter="url(#b0_8)"/>
<rect x="137.95" y="362.40" width="11.50" height="4.00" rx="2.00" fill="rgb(0,0,0)" fill-opacity="0.900" filter="url(#b0_8)"/>
<rect x="149.45" y="362.40" width="11.50" height="4.00" rx="2.00" fill="rgb(0,0,0)" filter="url(#b0_8)"/>
<rect x="164.25" y="362.40" width="11.50" height="4.00" rx="2.00" fill="rgb(0,0,0)" fill-opacity="0.900" filter="url(#b0_8)"/>
<rect x="175.35" y="362.40" width="11.50" height="4.00" rx="2.00" fill="rgb(0,0,0)" filter="url(#b0_8)"/>
<rect x="185.25" y="362.40" width="11.50" height="4.00" rx="2.00" fill="rgb(0,0,0)" filter="url(#b0_8)"/>
<text x="123.70" y="384.78" font-size="9.4" text-anchor="middle" fill="#000">MST/MAP4K-8KO</text>
<text x="225.40" y="264.00" font-size="13.5" font-weight="bold">h</text>
<text x="346.60" y="264.28" font-size="9.4" text-anchor="middle" fill="#000">Myc-MST1</text>
<line x1="273.20" y1="266.60" x2="431.50" y2="266.60" stroke="#222" stroke-width="1.25" />
<text x="271.20" y="293.18" font-size="9.4" text-anchor="end" fill="#000">SFB-</text>
<text x="285.52" y="299.40" font-size="9.5" text-anchor="start" transform="rotate(-90 285.52 299.40)">Vector</text>
<text x="297.10" y="299.40" font-size="9.5" text-anchor="start" transform="rotate(-90 297.10 299.40)">MST1</text>
<text x="308.67" y="299.40" font-size="9.5" text-anchor="start" transform="rotate(-90 308.67 299.40)">K59R</text>
<text x="320.25" y="299.40" font-size="9.5" text-anchor="start" transform="rotate(-90 320.25 299.40)">V44A</text>
<text x="331.82" y="299.40" font-size="9.5" text-anchor="start" transform="rotate(-90 331.82 299.40)">K46N</text>
<text x="343.40" y="299.40" font-size="9.5" text-anchor="start" transform="rotate(-90 343.40 299.40)">D97V</text>
<text x="354.97" y="299.40" font-size="9.5" text-anchor="start" transform="rotate(-90 354.97 299.40)">W99L</text>
<text x="366.55" y="299.40" font-size="9.5" text-anchor="start" transform="rotate(-90 366.55 299.40)">I155T</text>
<text x="378.12" y="299.40" font-size="9.5" text-anchor="start" transform="rotate(-90 378.12 299.40)">D167N</text>
<text x="389.70" y="299.40" font-size="9.5" text-anchor="start" transform="rotate(-90 389.70 299.40)">R181Q</text>
<text x="401.27" y="299.40" font-size="9.5" text-anchor="start" transform="rotate(-90 401.27 299.40)">E219K</text>
<text x="412.85" y="299.40" font-size="9.5" text-anchor="start" transform="rotate(-90 412.85 299.40)">P223S</text>
<text x="424.42" y="299.40" font-size="9.5" text-anchor="start" transform="rotate(-90 424.42 299.40)">P229Q</text>
<text x="433.30" y="299.58" font-size="9.4" text-anchor="start" fill="#000">kDa</text>
<rect x="271.90" y="303.00" width="159.90" height="22.80" fill="#d5d5d5" />
<text x="270.20" y="314.08" font-size="9.4" text-anchor="end" fill="#000">p-MST1</text>
<text x="270.20" y="322.98" font-size="9.4" text-anchor="end" fill="#000">(T183)</text>
<line x1="432.00" y1="313.70" x2="436.60" y2="313.70" stroke="#111" stroke-width="1.0" />
<text x="436.80" y="317.08" font-size="9.4" text-anchor="start" fill="#000">75</text>
<rect x="287.43" y="311.50" width="12.50" height="5.00" rx="2.50" fill="rgb(0,0,0)" fill-opacity="0.850" filter="url(#b0_8)"/>
<rect x="299.00" y="311.00" width="12.50" height="6.00" rx="3.00" fill="rgb(0,0,0)" filter="url(#b0_8)"/>
<rect x="310.58" y="311.75" width="12.50" height="4.50" rx="2.25" fill="rgb(0,0,0)" fill-opacity="0.850" filter="url(#b0_8)"/>
<rect x="322.15" y="311.25" width="12.50" height="5.50" rx="2.75" fill="rgb(0,0,0)" fill-opacity="0.950" filter="url(#b0_8)"/>
<rect x="333.73" y="310.60" width="12.50" height="6.80" rx="3.40" fill="rgb(0,0,0)" filter="url(#b0_8)"/>
<rect x="345.30" y="310.40" width="12.50" height="7.20" rx="3.60" fill="rgb(0,0,0)" filter="url(#b0_8)"/>
<rect x="368.70" y="310.25" width="12.00" height="7.50" rx="3.75" fill="rgb(0,0,0)" filter="url(#b0_8)"/>
<rect x="312.83" y="323.30" width="8.00" height="2.00" rx="1.00" fill="rgb(0,0,0)" fill-opacity="0.180" filter="url(#b1_0)"/>
<rect x="324.40" y="323.30" width="8.00" height="2.00" rx="1.00" fill="rgb(0,0,0)" fill-opacity="0.100" filter="url(#b1_0)"/>
<rect x="335.98" y="323.30" width="8.00" height="2.00" rx="1.00" fill="rgb(0,0,0)" fill-opacity="0.120" filter="url(#b1_0)"/>
<rect x="347.55" y="323.30" width="8.00" height="2.00" rx="1.00" fill="rgb(0,0,0)" fill-opacity="0.150" filter="url(#b1_0)"/>
<rect x="271.90" y="327.40" width="159.90" height="22.20" fill="#d3d3d3" />
<text x="270.20" y="340.98" font-size="9.4" text-anchor="end" fill="#000">Flag</text>
<line x1="432.00" y1="338.40" x2="436.60" y2="338.40" stroke="#111" stroke-width="1.0" />
<text x="436.80" y="341.78" font-size="9.4" text-anchor="start" fill="#000">75</text>
<rect x="288.18" y="336.20" width="11.00" height="3.80" rx="1.90" fill="rgb(0,0,0)" fill-opacity="0.950" filter="url(#b0_8)"/>
<rect x="299.75" y="336.20" width="11.00" height="3.80" rx="1.90" fill="rgb(0,0,0)" fill-opacity="0.800" filter="url(#b0_8)"/>
<rect x="311.33" y="336.20" width="11.00" height="3.80" rx="1.90" fill="rgb(0,0,0)" fill-opacity="0.850" filter="url(#b0_8)"/>
<rect x="322.90" y="336.20" width="11.00" height="3.80" rx="1.90" fill="rgb(0,0,0)" fill-opacity="0.900" filter="url(#b0_8)"/>
<rect x="334.48" y="336.20" width="11.00" height="3.80" rx="1.90" fill="rgb(0,0,0)" fill-opacity="0.950" filter="url(#b0_8)"/>
<rect x="346.05" y="336.20" width="11.00" height="3.80" rx="1.90" fill="rgb(0,0,0)" fill-opacity="0.850" filter="url(#b0_8)"/>
<rect x="357.62" y="336.20" width="11.00" height="3.80" rx="1.90" fill="rgb(0,0,0)" fill-opacity="0.800" filter="url(#b0_8)"/>
<rect x="369.20" y="336.20" width="11.00" height="3.80" rx="1.90" fill="rgb(0,0,0)" fill-opacity="0.700" filter="url(#b0_8)"/>
<rect x="380.78" y="336.20" width="11.00" height="3.80" rx="1.90" fill="rgb(0,0,0)" fill-opacity="0.900" filter="url(#b0_8)"/>
<rect x="392.35" y="336.20" width="11.00" height="3.80" rx="1.90" fill="rgb(0,0,0)" fill-opacity="0.950" filter="url(#b0_8)"/>
<rect x="403.93" y="336.20" width="11.00" height="3.80" rx="1.90" fill="rgb(0,0,0)" fill-opacity="0.900" filter="url(#b0_8)"/>
<rect x="415.50" y="336.20" width="11.00" height="3.80" rx="1.90" fill="rgb(0,0,0)" fill-opacity="0.950" filter="url(#b0_8)"/>
<rect x="271.90" y="351.60" width="159.90" height="22.10" fill="#d1d1d1" />
<text x="270.20" y="365.28" font-size="9.4" text-anchor="end" fill="#000">Myc</text>
<line x1="432.00" y1="358.70" x2="436.60" y2="358.70" stroke="#111" stroke-width="1.0" />
<text x="436.80" y="362.08" font-size="9.4" text-anchor="start" fill="#000">75</text>
<rect x="276.40" y="359.45" width="11.00" height="4.50" rx="2.25" fill="rgb(0,0,0)" filter="url(#b0_8)"/>
<rect x="288.07" y="359.35" width="11.50" height="5.00" rx="2.50" fill="rgb(0,0,0)" filter="url(#b0_8)"/>
<rect x="300.25" y="360.25" width="11.00" height="3.50" rx="1.75" fill="rgb(0,0,0)" fill-opacity="0.850" filter="url(#b0_8)"/>
<rect x="311.42" y="359.05" width="12.50" height="6.20" rx="3.10" fill="rgb(0,0,0)" filter="url(#b0_8)"/>
<rect x="323.85" y="360.05" width="11.50" height="4.50" rx="2.25" fill="rgb(0,0,0)" fill-opacity="0.950" filter="url(#b0_8)"/>
<rect x="336.02" y="360.35" width="11.00" height="4.20" rx="2.10" fill="rgb(0,0,0)" fill-opacity="0.900" filter="url(#b0_8)"/>
<rect x="347.70" y="360.20" width="11.50" height="4.50" rx="2.25" fill="rgb(0,0,0)" filter="url(#b0_8)"/>
<rect x="359.88" y="360.70" width="11.00" height="3.50" rx="1.75" fill="rgb(0,0,0)" fill-opacity="0.800" filter="url(#b0_8)"/>
<rect x="371.55" y="360.35" width="11.50" height="4.20" rx="2.10" fill="rgb(0,0,0)" fill-opacity="0.950" filter="url(#b0_8)"/>
<rect x="383.72" y="360.00" width="11.00" height="4.20" rx="2.10" fill="rgb(0,0,0)" fill-opacity="0.950" filter="url(#b0_8)"/>
<rect x="395.65" y="359.95" width="11.00" height="3.60" rx="1.80" fill="rgb(0,0,0)" fill-opacity="0.800" filter="url(#b0_8)"/>
<rect x="407.58" y="359.60" width="11.00" height="3.60" rx="1.80" fill="rgb(0,0,0)" fill-opacity="0.800" filter="url(#b0_8)"/>
<rect x="419.50" y="359.15" width="11.00" height="3.80" rx="1.90" fill="rgb(0,0,0)" fill-opacity="0.900" filter="url(#b0_8)"/>
<text x="354.00" y="383.68" font-size="9.4" text-anchor="middle" fill="#000">MST/MAP4K-8KO</text>
<text x="228.60" y="327.58" font-size="9.4" text-anchor="middle" textLength="39.20" lengthAdjust="spacingAndGlyphs" transform="rotate(-90 228.60 324.20)">Pulldown</text>
<line x1="234.50" y1="303.00" x2="234.50" y2="349.00" stroke="#333" stroke-width="0.9" />
<text x="228.60" y="368.38" font-size="9.4" text-anchor="middle" textLength="20.50" lengthAdjust="spacingAndGlyphs" transform="rotate(-90 228.60 365.00)">Input</text>
<line x1="234.50" y1="353.50" x2="234.50" y2="373.40" stroke="#333" stroke-width="0.9" />
<text x="459.60" y="264.00" font-size="13.5" font-weight="bold">i</text>
<text x="577.80" y="263.18" font-size="9.4" text-anchor="middle" fill="#000">Myc-MST2</text>
<line x1="505.70" y1="266.10" x2="666.80" y2="266.10" stroke="#222" stroke-width="1.25" />
<text x="504.70" y="292.78" font-size="9.4" text-anchor="end" fill="#000">SFB-</text>
<text x="515.42" y="298.20" font-size="9.5" text-anchor="start" transform="rotate(-90 515.42 298.20)">Vector</text>
<text x="527.49" y="298.20" font-size="9.5" text-anchor="start" transform="rotate(-90 527.49 298.20)">MST2</text>
<text x="539.55" y="298.20" font-size="9.5" text-anchor="start" transform="rotate(-90 539.55 298.20)">K56R</text>
<text x="551.62" y="298.20" font-size="9.5" text-anchor="start" transform="rotate(-90 551.62 298.20)">E70D</text>
<text x="563.69" y="298.20" font-size="9.5" text-anchor="start" transform="rotate(-90 563.69 298.20)">S72P</text>
<text x="575.75" y="298.20" font-size="9.5" text-anchor="start" transform="rotate(-90 575.75 298.20)">A104T</text>
<text x="587.82" y="298.20" font-size="9.5" text-anchor="start" transform="rotate(-90 587.82 298.20)">S106F</text>
<text x="599.89" y="298.20" font-size="9.5" text-anchor="start" transform="rotate(-90 599.89 298.20)">H144Y</text>
<text x="611.95" y="298.20" font-size="9.5" text-anchor="start" transform="rotate(-90 611.95 298.20)">R145K</text>
<text x="624.02" y="298.20" font-size="9.5" text-anchor="start" transform="rotate(-90 624.02 298.20)">D146N</text>
<text x="636.09" y="298.20" font-size="9.5" text-anchor="start" transform="rotate(-90 636.09 298.20)">D146Y</text>
<text x="648.15" y="298.20" font-size="9.5" text-anchor="start" transform="rotate(-90 648.15 298.20)">T180I</text>
<text x="660.22" y="298.20" font-size="9.5" text-anchor="start" transform="rotate(-90 660.22 298.20)">R266I</text>
<text x="668.90" y="299.08" font-size="9.4" text-anchor="start" fill="#000">kDa</text>
<rect x="506.20" y="302.10" width="161.20" height="21.80" fill="#d5d5d5" />
<text x="502.80" y="311.78" font-size="9.4" text-anchor="end" fill="#000">p-MST2</text>
<text x="502.80" y="322.38" font-size="9.4" text-anchor="end" fill="#000">(T180)</text>
<line x1="667.60" y1="313.70" x2="672.20" y2="313.70" stroke="#111" stroke-width="1.0" />
<text x="672.40" y="317.08" font-size="9.4" text-anchor="start" fill="#000">75</text>
<rect x="519.00" y="308.05" width="17.00" height="10.50" rx="5.25" fill="rgb(0,0,0)" filter="url(#b0_8)"/>
<rect x="530.13" y="311.00" width="12.00" height="5.00" rx="2.50" fill="rgb(0,0,0)" filter="url(#b0_8)"/>
<rect x="541.70" y="309.75" width="13.00" height="7.50" rx="3.75" fill="rgb(0,0,0)" filter="url(#b0_8)"/>
<rect x="579.65" y="311.40" width="9.50" height="4.20" rx="2.10" fill="rgb(0,0,0)" fill-opacity="0.750" filter="url(#b0_8)"/>
<rect x="615.85" y="311.40" width="9.50" height="4.20" rx="2.10" fill="rgb(0,0,0)" fill-opacity="0.750" filter="url(#b0_8)"/>
<rect x="506.20" y="326.50" width="161.20" height="22.20" fill="#d4d4d4" />
<text x="502.80" y="340.38" font-size="9.4" text-anchor="end" fill="#000">Flag</text>
<line x1="667.60" y1="338.00" x2="672.20" y2="338.00" stroke="#111" stroke-width="1.0" />
<text x="672.40" y="341.38" font-size="9.4" text-anchor="start" fill="#000">75</text>
<rect x="518.57" y="335.60" width="11.00" height="5.00" rx="2.50" fill="rgb(0,0,0)" fill-opacity="0.950" filter="url(#b0_8)"/>
<rect x="530.13" y="335.10" width="12.00" height="6.00" rx="3.00" fill="rgb(0,0,0)" filter="url(#b0_8)"/>
<rect x="542.70" y="336.10" width="11.00" height="4.00" rx="2.00" fill="rgb(0,0,0)" fill-opacity="0.700" filter="url(#b0_8)"/>
<rect x="554.77" y="336.10" width="11.00" height="4.00" rx="2.00" fill="rgb(0,0,0)" fill-opacity="0.550" filter="url(#b0_8)"/>
<rect x="566.83" y="336.10" width="11.00" height="4.00" rx="2.00" fill="rgb(0,0,0)" fill-opacity="0.500" filter="url(#b0_8)"/>
<rect x="578.90" y="336.10" width="11.00" height="4.00" rx="2.00" fill="rgb(0,0,0)" fill-opacity="0.750" filter="url(#b0_8)"/>
<rect x="590.97" y="336.10" width="11.00" height="4.00" rx="2.00" fill="rgb(0,0,0)" fill-opacity="0.750" filter="url(#b0_8)"/>
<rect x="603.03" y="336.10" width="11.00" height="4.00" rx="2.00" fill="rgb(0,0,0)" fill-opacity="0.800" filter="url(#b0_8)"/>
<rect x="615.10" y="336.10" width="11.00" height="4.00" rx="2.00" fill="rgb(0,0,0)" fill-opacity="0.550" filter="url(#b0_8)"/>
<rect x="627.17" y="335.60" width="11.00" height="5.00" rx="2.50" fill="rgb(0,0,0)" filter="url(#b0_8)"/>
<rect x="639.23" y="336.10" width="11.00" height="4.00" rx="2.00" fill="rgb(0,0,0)" fill-opacity="0.800" filter="url(#b0_8)"/>
<rect x="651.30" y="336.10" width="11.00" height="4.00" rx="2.00" fill="rgb(0,0,0)" fill-opacity="0.500" filter="url(#b0_8)"/>
<rect x="506.20" y="350.90" width="161.20" height="21.90" fill="#d1d1d1" />
<text x="502.80" y="364.68" font-size="9.4" text-anchor="end" fill="#000">Myc</text>
<line x1="667.60" y1="358.70" x2="672.20" y2="358.70" stroke="#111" stroke-width="1.0" />
<text x="672.40" y="362.08" font-size="9.4" text-anchor="start" fill="#000">75</text>
<rect x="508.50" y="359.10" width="11.00" height="5.00" rx="2.50" fill="rgb(0,0,0)" filter="url(#b0_8)"/>
<rect x="520.48" y="359.10" width="11.00" height="5.00" rx="2.50" fill="rgb(0,0,0)" filter="url(#b0_8)"/>
<rect x="532.47" y="359.10" width="11.00" height="5.00" rx="2.50" fill="rgb(0,0,0)" fill-opacity="0.950" filter="url(#b0_8)"/>
<rect x="544.45" y="359.10" width="11.00" height="5.00" rx="2.50" fill="rgb(0,0,0)" fill-opacity="0.950" filter="url(#b0_8)"/>
<rect x="556.68" y="358.50" width="10.50" height="3.80" rx="1.90" fill="rgb(0,0,0)" fill-opacity="0.900" filter="url(#b0_8)"/>
<rect x="568.42" y="359.10" width="11.00" height="5.00" rx="2.50" fill="rgb(0,0,0)" filter="url(#b0_8)"/>
<rect x="580.40" y="359.10" width="11.00" height="5.00" rx="2.50" fill="rgb(0,0,0)" filter="url(#b0_8)"/>
<rect x="592.38" y="359.10" width="11.00" height="5.00" rx="2.50" fill="rgb(0,0,0)" filter="url(#b0_8)"/>
<rect x="604.37" y="359.10" width="11.00" height="5.00" rx="2.50" fill="rgb(0,0,0)" filter="url(#b0_8)"/>
<rect x="616.35" y="359.10" width="11.00" height="5.00" rx="2.50" fill="rgb(0,0,0)" fill-opacity="0.950" filter="url(#b0_8)"/>
<rect x="628.33" y="359.10" width="11.00" height="5.00" rx="2.50" fill="rgb(0,0,0)" filter="url(#b0_8)"/>
<rect x="640.32" y="359.10" width="11.00" height="5.00" rx="2.50" fill="rgb(0,0,0)" filter="url(#b0_8)"/>
<rect x="652.30" y="359.10" width="11.00" height="5.00" rx="2.50" fill="rgb(0,0,0)" filter="url(#b0_8)"/>
<text x="585.20" y="383.68" font-size="9.4" text-anchor="middle" fill="#000">MST/MAP4K-8KO</text>
<text x="461.60" y="326.58" font-size="9.4" text-anchor="middle" textLength="38.30" lengthAdjust="spacingAndGlyphs" transform="rotate(-90 461.60 323.20)">Pulldown</text>
<line x1="467.60" y1="302.00" x2="467.60" y2="347.70" stroke="#333" stroke-width="0.9" />
<text x="461.60" y="366.88" font-size="9.4" text-anchor="middle" textLength="19.90" lengthAdjust="spacingAndGlyphs" transform="rotate(-90 461.60 363.50)">Input</text>
<line x1="467.60" y1="352.20" x2="467.60" y2="372.80" stroke="#333" stroke-width="0.9" />
<text x="0.90" y="418.20" font-size="13.5" font-weight="bold">j</text>
<text x="128.6" y="419.9" font-size="9.4" text-anchor="middle">ATP-<tspan font-family="Liberation Serif">γ</tspan>-S+PNBM</text>
<line x1="54.30" y1="423.30" x2="197.60" y2="423.30" stroke="#222" stroke-width="1.25" />
<text x="51.80" y="449.28" font-size="9.4" text-anchor="end" fill="#000">SFB-</text>
<text x="65.82" y="455.80" font-size="9.5" text-anchor="start" transform="rotate(-90 65.82 455.80)">MST1</text>
<text x="77.35" y="455.80" font-size="9.5" text-anchor="start" transform="rotate(-90 77.35 455.80)">K59R</text>
<text x="88.87" y="455.80" font-size="9.5" text-anchor="start" transform="rotate(-90 88.87 455.80)">V44A</text>
<text x="100.40" y="455.80" font-size="9.5" text-anchor="start" transform="rotate(-90 100.40 455.80)">K46N</text>
<text x="111.93" y="455.80" font-size="9.5" text-anchor="start" transform="rotate(-90 111.93 455.80)">D97V</text>
<text x="123.46" y="455.80" font-size="9.5" text-anchor="start" transform="rotate(-90 123.46 455.80)">W99L</text>
<text x="134.98" y="455.80" font-size="9.5" text-anchor="start" transform="rotate(-90 134.98 455.80)">I155T</text>
<text x="146.51" y="455.80" font-size="9.5" text-anchor="start" transform="rotate(-90 146.51 455.80)">D167N</text>
<text x="158.04" y="455.80" font-size="9.5" text-anchor="start" transform="rotate(-90 158.04 455.80)">R181Q</text>
<text x="169.57" y="455.80" font-size="9.5" text-anchor="start" transform="rotate(-90 169.57 455.80)">E219K</text>
<text x="181.09" y="455.80" font-size="9.5" text-anchor="start" transform="rotate(-90 181.09 455.80)">P223S</text>
<text x="192.62" y="455.80" font-size="9.5" text-anchor="start" transform="rotate(-90 192.62 455.80)">P229Q</text>
<text x="199.00" y="456.48" font-size="9.4" text-anchor="start" fill="#000">kDa</text>
<rect x="53.90" y="458.80" width="144.10" height="23.00" fill="#d5d5d5" />
<text x="50.90" y="463.38" font-size="9.4" text-anchor="end" fill="#000">Thio-</text>
<text x="50.90" y="473.38" font-size="9.4" text-anchor="end" fill="#000">phosphate</text>
<text x="50.90" y="482.68" font-size="9.4" text-anchor="end" fill="#000">ester</text>
<line x1="198.20" y1="474.20" x2="202.80" y2="474.20" stroke="#111" stroke-width="1.0" />
<text x="203.00" y="477.58" font-size="9.4" text-anchor="start" fill="#000">75</text>
<rect x="56.90" y="466.25" width="11.00" height="7.50" rx="3.75" fill="rgb(0,0,0)" filter="url(#b0_8)"/>
<rect x="80.95" y="468.25" width="9.00" height="3.50" rx="1.75" fill="rgb(0,0,0)" fill-opacity="0.550" filter="url(#b0_8)"/>
<rect x="92.48" y="468.25" width="9.00" height="3.50" rx="1.75" fill="rgb(0,0,0)" fill-opacity="0.800" filter="url(#b0_8)"/>
<rect x="103.01" y="466.25" width="11.00" height="7.50" rx="3.75" fill="rgb(0,0,0)" filter="url(#b0_8)"/>
<rect x="114.04" y="465.25" width="12.00" height="9.50" rx="4.75" fill="rgb(0,0,0)" filter="url(#b0_8)"/>
<rect x="150.12" y="468.25" width="9.00" height="3.50" rx="1.75" fill="rgb(0,0,0)" fill-opacity="0.600" filter="url(#b0_8)"/>
<rect x="173.17" y="468.25" width="9.00" height="3.50" rx="1.75" fill="rgb(0,0,0)" fill-opacity="0.200" filter="url(#b0_8)"/>
<rect x="186.70" y="468.50" width="5.00" height="3.00" rx="1.50" fill="rgb(0,0,0)" fill-opacity="0.500" filter="url(#b0_8)"/>
<rect x="57.90" y="459.30" width="9.00" height="2.00" rx="1.00" fill="rgb(0,0,0)" fill-opacity="0.150" filter="url(#b0_8)"/>
<rect x="69.43" y="459.30" width="9.00" height="2.00" rx="1.00" fill="rgb(0,0,0)" fill-opacity="0.200" filter="url(#b0_8)"/>
<rect x="80.95" y="459.30" width="9.00" height="2.00" rx="1.00" fill="rgb(0,0,0)" fill-opacity="0.100" filter="url(#b0_8)"/>
<rect x="92.48" y="459.30" width="9.00" height="2.00" rx="1.00" fill="rgb(0,0,0)" fill-opacity="0.100" filter="url(#b0_8)"/>
<rect x="104.01" y="459.30" width="9.00" height="2.00" rx="1.00" fill="rgb(0,0,0)" fill-opacity="0.200" filter="url(#b0_8)"/>
<rect x="115.54" y="459.30" width="9.00" height="2.00" rx="1.00" fill="rgb(0,0,0)" fill-opacity="0.150" filter="url(#b0_8)"/>
<rect x="127.06" y="459.30" width="9.00" height="2.00" rx="1.00" fill="rgb(0,0,0)" fill-opacity="0.150" filter="url(#b0_8)"/>
<rect x="138.59" y="459.30" width="9.00" height="2.00" rx="1.00" fill="rgb(0,0,0)" fill-opacity="0.150" filter="url(#b0_8)"/>
<rect x="150.12" y="459.30" width="9.00" height="2.00" rx="1.00" fill="rgb(0,0,0)" fill-opacity="0.100" filter="url(#b0_8)"/>
<rect x="161.65" y="459.30" width="9.00" height="2.00" rx="1.00" fill="rgb(0,0,0)" fill-opacity="0.400" filter="url(#b0_8)"/>
<rect x="173.17" y="459.30" width="9.00" height="2.00" rx="1.00" fill="rgb(0,0,0)" fill-opacity="0.450" filter="url(#b0_8)"/>
<rect x="184.70" y="459.30" width="9.00" height="2.00" rx="1.00" fill="rgb(0,0,0)" fill-opacity="0.500" filter="url(#b0_8)"/>
<rect x="57.90" y="477.10" width="9.00" height="3.00" rx="1.50" fill="rgb(0,0,0)" fill-opacity="0.150" filter="url(#b1_0)"/>
<rect x="92.48" y="477.10" width="9.00" height="3.00" rx="1.50" fill="rgb(0,0,0)" fill-opacity="0.050" filter="url(#b1_0)"/>
<rect x="104.01" y="477.10" width="9.00" height="3.00" rx="1.50" fill="rgb(0,0,0)" fill-opacity="0.150" filter="url(#b1_0)"/>
<rect x="115.54" y="477.10" width="9.00" height="3.00" rx="1.50" fill="rgb(0,0,0)" fill-opacity="0.200" filter="url(#b1_0)"/>
<rect x="184.70" y="477.10" width="9.00" height="3.00" rx="1.50" fill="rgb(0,0,0)" fill-opacity="0.100" filter="url(#b1_0)"/>
<rect x="53.90" y="483.30" width="144.10" height="22.20" fill="#d2d2d2" />
<text x="50.90" y="497.28" font-size="9.4" text-anchor="end" fill="#000">Flag</text>
<line x1="198.20" y1="496.00" x2="202.80" y2="496.00" stroke="#111" stroke-width="1.0" />
<text x="203.00" y="499.38" font-size="9.4" text-anchor="start" fill="#000">75</text>
<rect x="56.90" y="491.90" width="11.00" height="3.80" rx="1.90" fill="rgb(0,0,0)" filter="url(#b0_8)"/>
<rect x="68.43" y="491.90" width="11.00" height="3.80" rx="1.90" fill="rgb(0,0,0)" fill-opacity="0.950" filter="url(#b0_8)"/>
<rect x="79.95" y="491.90" width="11.00" height="3.80" rx="1.90" fill="rgb(0,0,0)" fill-opacity="0.700" filter="url(#b0_8)"/>
<rect x="91.48" y="491.90" width="11.00" height="3.80" rx="1.90" fill="rgb(0,0,0)" fill-opacity="0.950" filter="url(#b0_8)"/>
<rect x="103.01" y="491.90" width="11.00" height="3.80" rx="1.90" fill="rgb(0,0,0)" fill-opacity="0.950" filter="url(#b0_8)"/>
<rect x="114.54" y="491.90" width="11.00" height="3.80" rx="1.90" fill="rgb(0,0,0)" fill-opacity="0.950" filter="url(#b0_8)"/>
<rect x="126.06" y="491.90" width="11.00" height="3.80" rx="1.90" fill="rgb(0,0,0)" fill-opacity="0.950" filter="url(#b0_8)"/>
<rect x="137.59" y="491.90" width="11.00" height="3.80" rx="1.90" fill="rgb(0,0,0)" fill-opacity="0.950" filter="url(#b0_8)"/>
<rect x="149.12" y="491.90" width="11.00" height="3.80" rx="1.90" fill="rgb(0,0,0)" fill-opacity="0.950" filter="url(#b0_8)"/>
<rect x="160.65" y="491.90" width="11.00" height="3.80" rx="1.90" fill="rgb(0,0,0)" fill-opacity="0.950" filter="url(#b0_8)"/>
<rect x="172.17" y="491.90" width="11.00" height="3.80" rx="1.90" fill="rgb(0,0,0)" fill-opacity="0.950" filter="url(#b0_8)"/>
<rect x="183.70" y="491.90" width="11.00" height="3.80" rx="1.90" fill="rgb(0,0,0)" filter="url(#b0_8)"/>
<text x="130.20" y="516.28" font-size="9.4" text-anchor="middle" fill="#000">MST/MAP4K-8KO</text>
<text x="0" y="0" font-size="9.4" transform="translate(226.5,480.5) rotate(90)" text-anchor="middle"><tspan x="0" dy="0" font-style="italic">In vitro</tspan><tspan x="0" dy="8.6">kinase assay</tspan></text>
<text x="0.30" y="544.80" font-size="13.5" font-weight="bold">k</text>
<text x="129.4" y="550.6" font-size="9.4" text-anchor="middle">ATP-<tspan font-family="Liberation Serif">γ</tspan>-S+PNBM</text>
<line x1="54.90" y1="554.20" x2="198.10" y2="554.20" stroke="#222" stroke-width="1.25" />
<text x="51.80" y="579.88" font-size="9.4" text-anchor="end" fill="#000">SFB-</text>
<text x="66.32" y="586.00" font-size="9.5" text-anchor="start" transform="rotate(-90 66.32 586.00)">MST2</text>
<text x="77.83" y="586.00" font-size="9.5" text-anchor="start" transform="rotate(-90 77.83 586.00)">K56R</text>
<text x="89.34" y="586.00" font-size="9.5" text-anchor="start" transform="rotate(-90 89.34 586.00)">E70D</text>
<text x="100.85" y="586.00" font-size="9.5" text-anchor="start" transform="rotate(-90 100.85 586.00)">S72P</text>
<text x="112.36" y="586.00" font-size="9.5" text-anchor="start" transform="rotate(-90 112.36 586.00)">A104T</text>
<text x="123.87" y="586.00" font-size="9.5" text-anchor="start" transform="rotate(-90 123.87 586.00)">S106F</text>
<text x="135.37" y="586.00" font-size="9.5" text-anchor="start" transform="rotate(-90 135.37 586.00)">H144Y</text>
<text x="146.88" y="586.00" font-size="9.5" text-anchor="start" transform="rotate(-90 146.88 586.00)">R145K</text>
<text x="158.39" y="586.00" font-size="9.5" text-anchor="start" transform="rotate(-90 158.39 586.00)">D146N</text>
<text x="169.90" y="586.00" font-size="9.5" text-anchor="start" transform="rotate(-90 169.90 586.00)">D146Y</text>
<text x="181.41" y="586.00" font-size="9.5" text-anchor="start" transform="rotate(-90 181.41 586.00)">T180I</text>
<text x="192.92" y="586.00" font-size="9.5" text-anchor="start" transform="rotate(-90 192.92 586.00)">R266I</text>
<text x="199.00" y="586.68" font-size="9.4" text-anchor="start" fill="#000">kDa</text>
<rect x="55.40" y="588.90" width="142.60" height="23.00" fill="#d5d5d5" />
<text x="50.90" y="594.08" font-size="9.4" text-anchor="end" fill="#000">Thio-</text>
<text x="50.90" y="603.58" font-size="9.4" text-anchor="end" fill="#000">phosphate</text>
<text x="50.90" y="612.48" font-size="9.4" text-anchor="end" fill="#000">ester</text>
<line x1="198.20" y1="602.80" x2="202.80" y2="602.80" stroke="#111" stroke-width="1.0" />
<text x="203.00" y="606.18" font-size="9.4" text-anchor="start" fill="#000">75</text>
<rect x="57.40" y="597.10" width="11.00" height="7.00" rx="3.50" fill="rgb(0,0,0)" filter="url(#b0_8)"/>
<rect x="81.92" y="599.10" width="8.00" height="3.00" rx="1.50" fill="rgb(0,0,0)" fill-opacity="0.550" filter="url(#b0_8)"/>
<rect x="173.99" y="599.10" width="8.00" height="3.00" rx="1.50" fill="rgb(0,0,0)" fill-opacity="0.250" filter="url(#b0_8)"/>
<rect x="57.90" y="593.15" width="10.00" height="2.50" rx="1.25" fill="rgb(0,0,0)" fill-opacity="0.150" filter="url(#b1_0)"/>
<rect x="69.41" y="593.15" width="10.00" height="2.50" rx="1.25" fill="rgb(0,0,0)" fill-opacity="0.200" filter="url(#b1_0)"/>
<rect x="80.92" y="593.15" width="10.00" height="2.50" rx="1.25" fill="rgb(0,0,0)" fill-opacity="0.200" filter="url(#b1_0)"/>
<rect x="92.43" y="593.15" width="10.00" height="2.50" rx="1.25" fill="rgb(0,0,0)" fill-opacity="0.150" filter="url(#b1_0)"/>
<rect x="103.94" y="593.15" width="10.00" height="2.50" rx="1.25" fill="rgb(0,0,0)" fill-opacity="0.200" filter="url(#b1_0)"/>
<rect x="115.45" y="593.15" width="10.00" height="2.50" rx="1.25" fill="rgb(0,0,0)" fill-opacity="0.300" filter="url(#b1_0)"/>
<rect x="126.95" y="593.15" width="10.00" height="2.50" rx="1.25" fill="rgb(0,0,0)" fill-opacity="0.250" filter="url(#b1_0)"/>
<rect x="138.46" y="593.15" width="10.00" height="2.50" rx="1.25" fill="rgb(0,0,0)" fill-opacity="0.150" filter="url(#b1_0)"/>
<rect x="149.97" y="593.15" width="10.00" height="2.50" rx="1.25" fill="rgb(0,0,0)" fill-opacity="0.150" filter="url(#b1_0)"/>
<rect x="161.48" y="593.15" width="10.00" height="2.50" rx="1.25" fill="rgb(0,0,0)" fill-opacity="0.200" filter="url(#b1_0)"/>
<rect x="172.99" y="593.15" width="10.00" height="2.50" rx="1.25" fill="rgb(0,0,0)" fill-opacity="0.250" filter="url(#b1_0)"/>
<rect x="184.50" y="593.15" width="10.00" height="2.50" rx="1.25" fill="rgb(0,0,0)" fill-opacity="0.250" filter="url(#b1_0)"/>
<rect x="57.90" y="588.90" width="10.00" height="2.20" rx="1.10" fill="rgb(0,0,0)" fill-opacity="0.600" filter="url(#b0_8)"/>
<rect x="69.41" y="588.90" width="10.00" height="2.20" rx="1.10" fill="rgb(0,0,0)" fill-opacity="0.700" filter="url(#b0_8)"/>
<rect x="80.92" y="588.90" width="10.00" height="2.20" rx="1.10" fill="rgb(0,0,0)" fill-opacity="0.600" filter="url(#b0_8)"/>
<rect x="92.43" y="588.90" width="10.00" height="2.20" rx="1.10" fill="rgb(0,0,0)" fill-opacity="0.450" filter="url(#b0_8)"/>
<rect x="103.94" y="588.90" width="10.00" height="2.20" rx="1.10" fill="rgb(0,0,0)" fill-opacity="0.650" filter="url(#b0_8)"/>
<rect x="115.45" y="588.90" width="10.00" height="2.20" rx="1.10" fill="rgb(0,0,0)" fill-opacity="0.500" filter="url(#b0_8)"/>
<rect x="126.95" y="588.90" width="10.00" height="2.20" rx="1.10" fill="rgb(0,0,0)" fill-opacity="0.400" filter="url(#b0_8)"/>
<rect x="138.46" y="588.90" width="10.00" height="2.20" rx="1.10" fill="rgb(0,0,0)" fill-opacity="0.350" filter="url(#b0_8)"/>
<rect x="149.97" y="588.90" width="10.00" height="2.20" rx="1.10" fill="rgb(0,0,0)" fill-opacity="0.350" filter="url(#b0_8)"/>
<rect x="161.48" y="588.90" width="10.00" height="2.20" rx="1.10" fill="rgb(0,0,0)" fill-opacity="0.650" filter="url(#b0_8)"/>
<rect x="172.99" y="588.90" width="10.00" height="2.20" rx="1.10" fill="rgb(0,0,0)" fill-opacity="0.450" filter="url(#b0_8)"/>
<rect x="184.50" y="588.90" width="10.00" height="2.20" rx="1.10" fill="rgb(0,0,0)" fill-opacity="0.400" filter="url(#b0_8)"/>
<rect x="55.40" y="614.00" width="142.60" height="22.20" fill="#d3d3d3" />
<text x="50.90" y="627.88" font-size="9.4" text-anchor="end" fill="#000">Flag</text>
<line x1="198.20" y1="626.70" x2="202.80" y2="626.70" stroke="#111" stroke-width="1.0" />
<text x="203.00" y="630.08" font-size="9.4" text-anchor="start" fill="#000">75</text>
<rect x="57.40" y="622.90" width="11.00" height="4.20" rx="2.10" fill="rgb(0,0,0)" filter="url(#b0_8)"/>
<rect x="68.91" y="622.90" width="11.00" height="4.20" rx="2.10" fill="rgb(0,0,0)" fill-opacity="0.900" filter="url(#b0_8)"/>
<rect x="80.42" y="622.90" width="11.00" height="4.20" rx="2.10" fill="rgb(0,0,0)" fill-opacity="0.950" filter="url(#b0_8)"/>
<rect x="91.93" y="622.90" width="11.00" height="4.20" rx="2.10" fill="rgb(0,0,0)" fill-opacity="0.950" filter="url(#b0_8)"/>
<rect x="103.44" y="622.90" width="11.00" height="4.20" rx="2.10" fill="rgb(0,0,0)" fill-opacity="0.750" filter="url(#b0_8)"/>
<rect x="114.95" y="622.90" width="11.00" height="4.20" rx="2.10" fill="rgb(0,0,0)" fill-opacity="0.950" filter="url(#b0_8)"/>
<rect x="126.45" y="622.90" width="11.00" height="4.20" rx="2.10" fill="rgb(0,0,0)" filter="url(#b0_8)"/>
<rect x="137.96" y="622.90" width="11.00" height="4.20" rx="2.10" fill="rgb(0,0,0)" filter="url(#b0_8)"/>
<rect x="149.47" y="622.90" width="11.00" height="4.20" rx="2.10" fill="rgb(0,0,0)" filter="url(#b0_8)"/>
<rect x="160.98" y="622.90" width="11.00" height="4.20" rx="2.10" fill="rgb(0,0,0)" fill-opacity="0.950" filter="url(#b0_8)"/>
<rect x="172.49" y="622.90" width="11.00" height="4.20" rx="2.10" fill="rgb(0,0,0)" filter="url(#b0_8)"/>
<rect x="184.00" y="622.90" width="11.00" height="4.20" rx="2.10" fill="rgb(0,0,0)" filter="url(#b0_8)"/>
<text x="130.50" y="646.28" font-size="9.4" text-anchor="middle" fill="#000">MST/MAP4K-8KO</text>
<text x="0" y="0" font-size="9.4" transform="translate(226.5,611.3) rotate(90)" text-anchor="middle"><tspan x="0" dy="0" font-style="italic">In vitro</tspan><tspan x="0" dy="8.6">kinase assay</tspan></text>
<text x="241.80" y="405.10" font-size="13.5" font-weight="bold">l</text>
<text x="359.30" y="407.58" font-size="9.4" text-anchor="middle" fill="#000">Kinase domain</text>
<line x1="285.10" y1="410.30" x2="433.00" y2="410.30" stroke="#222" stroke-width="1.25" />
<text x="279.00" y="437.28" font-size="9.4" text-anchor="end" fill="#000">MBP-</text>
<text x="295.12" y="443.60" font-size="9.5" text-anchor="start" transform="rotate(-90 295.12 443.60)">MST1</text>
<text x="307.19" y="443.60" font-size="9.5" text-anchor="start" transform="rotate(-90 307.19 443.60)">K59R</text>
<text x="319.27" y="443.60" font-size="9.5" text-anchor="start" transform="rotate(-90 319.27 443.60)">V44A</text>
<text x="331.34" y="443.60" font-size="9.5" text-anchor="start" transform="rotate(-90 331.34 443.60)">K46N</text>
<text x="343.41" y="443.60" font-size="9.5" text-anchor="start" transform="rotate(-90 343.41 443.60)">D97V</text>
<text x="355.48" y="443.60" font-size="9.5" text-anchor="start" transform="rotate(-90 355.48 443.60)">W99L</text>
<text x="367.56" y="443.60" font-size="9.5" text-anchor="start" transform="rotate(-90 367.56 443.60)">I155T</text>
<text x="379.63" y="443.60" font-size="9.5" text-anchor="start" transform="rotate(-90 379.63 443.60)">D167N</text>
<text x="391.70" y="443.60" font-size="9.5" text-anchor="start" transform="rotate(-90 391.70 443.60)">R181Q</text>
<text x="403.77" y="443.60" font-size="9.5" text-anchor="start" transform="rotate(-90 403.77 443.60)">E219K</text>
<text x="415.85" y="443.60" font-size="9.5" text-anchor="start" transform="rotate(-90 415.85 443.60)">P223S</text>
<text x="427.92" y="443.60" font-size="9.5" text-anchor="start" transform="rotate(-90 427.92 443.60)">P229Q</text>
<text x="436.60" y="442.58" font-size="9.4" text-anchor="start" fill="#000">kDa</text>
<rect x="274.40" y="447.10" width="158.90" height="66.90" fill="#f2f1f4" stroke="#a0a0a0" stroke-width="0.6"/>
<line x1="274.40" y1="447.10" x2="274.40" y2="514.00" stroke="#999" stroke-width="0.7" />
<rect x="277.0" y="447.40" width="7.4" height="5.10" rx="2.5" fill="url(#ladg)" fill-opacity="0.4" filter="url(#b0_6)"/>
<rect x="277.0" y="464.60" width="7.4" height="11.40" rx="2.5" fill="url(#ladg)" fill-opacity="0.95" filter="url(#b0_6)"/>
<rect x="277.0" y="503.80" width="7.4" height="10.80" rx="2.5" fill="url(#ladg)" fill-opacity="1.0" filter="url(#b0_6)"/>
<line x1="433.50" y1="449.50" x2="438.10" y2="449.50" stroke="#111" stroke-width="1.0" />
<text x="438.30" y="452.88" font-size="9.4" text-anchor="start" fill="#000">100</text>
<line x1="433.50" y1="471.70" x2="438.10" y2="471.70" stroke="#111" stroke-width="1.0" />
<text x="438.30" y="475.08" font-size="9.4" text-anchor="start" fill="#000">75</text>
<line x1="433.50" y1="509.70" x2="438.10" y2="509.70" stroke="#111" stroke-width="1.0" />
<text x="438.30" y="513.08" font-size="9.4" text-anchor="start" fill="#000">50</text>
<rect x="286.20" y="476.40" width="11.00" height="3.80" rx="1.90" fill="rgb(120,100,222)" fill-opacity="0.500" filter="url(#b0_9)"/>
<rect x="298.27" y="476.40" width="11.00" height="3.80" rx="1.90" fill="rgb(120,100,222)" fill-opacity="0.300" filter="url(#b0_9)"/>
<rect x="310.35" y="476.40" width="11.00" height="3.80" rx="1.90" fill="rgb(120,100,222)" fill-opacity="0.350" filter="url(#b0_9)"/>
<rect x="322.42" y="476.40" width="11.00" height="3.80" rx="1.90" fill="rgb(120,100,222)" fill-opacity="0.600" filter="url(#b0_9)"/>
<rect x="334.49" y="476.40" width="11.00" height="3.80" rx="1.90" fill="rgb(120,100,222)" fill-opacity="0.750" filter="url(#b0_9)"/>
<rect x="346.56" y="476.40" width="11.00" height="3.80" rx="1.90" fill="rgb(120,100,222)" fill-opacity="0.500" filter="url(#b0_9)"/>
<rect x="358.64" y="476.40" width="11.00" height="3.80" rx="1.90" fill="rgb(120,100,222)" fill-opacity="0.550" filter="url(#b0_9)"/>
<rect x="370.71" y="476.40" width="11.00" height="3.80" rx="1.90" fill="rgb(120,100,222)" fill-opacity="0.500" filter="url(#b0_9)"/>
<rect x="382.78" y="476.20" width="11.00" height="3.40" rx="1.70" fill="rgb(120,100,222)" fill-opacity="0.450" filter="url(#b0_9)"/>
<rect x="394.85" y="476.40" width="11.00" height="3.80" rx="1.90" fill="rgb(120,100,222)" fill-opacity="0.450" filter="url(#b0_9)"/>
<rect x="406.93" y="476.40" width="11.00" height="3.80" rx="1.90" fill="rgb(120,100,222)" fill-opacity="0.500" filter="url(#b0_9)"/>
<rect x="419.00" y="475.60" width="11.00" height="3.80" rx="1.90" fill="rgb(120,100,222)" fill-opacity="0.750" filter="url(#b0_9)"/>
<rect x="286.45" y="481.35" width="10.50" height="2.50" rx="1.25" fill="rgb(110,90,215)" fill-opacity="0.150" filter="url(#b0_8)"/>
<rect x="298.52" y="481.35" width="10.50" height="2.50" rx="1.25" fill="rgb(110,90,215)" fill-opacity="0.080" filter="url(#b0_8)"/>
<rect x="310.60" y="481.35" width="10.50" height="2.50" rx="1.25" fill="rgb(110,90,215)" fill-opacity="0.100" filter="url(#b0_8)"/>
<rect x="322.67" y="481.35" width="10.50" height="2.50" rx="1.25" fill="rgb(110,90,215)" fill-opacity="0.200" filter="url(#b0_8)"/>
<rect x="334.74" y="481.35" width="10.50" height="2.50" rx="1.25" fill="rgb(110,90,215)" fill-opacity="0.300" filter="url(#b0_8)"/>
<rect x="346.81" y="481.35" width="10.50" height="2.50" rx="1.25" fill="rgb(110,90,215)" fill-opacity="0.120" filter="url(#b0_8)"/>
<rect x="358.89" y="481.35" width="10.50" height="2.50" rx="1.25" fill="rgb(110,90,215)" fill-opacity="0.100" filter="url(#b0_8)"/>
<rect x="370.96" y="481.35" width="10.50" height="2.50" rx="1.25" fill="rgb(110,90,215)" fill-opacity="0.100" filter="url(#b0_8)"/>
<rect x="383.03" y="481.35" width="10.50" height="2.50" rx="1.25" fill="rgb(110,90,215)" fill-opacity="0.150" filter="url(#b0_8)"/>
<rect x="395.10" y="481.35" width="10.50" height="2.50" rx="1.25" fill="rgb(110,90,215)" fill-opacity="0.100" filter="url(#b0_8)"/>
<rect x="407.18" y="481.35" width="10.50" height="2.50" rx="1.25" fill="rgb(110,90,215)" fill-opacity="0.100" filter="url(#b0_8)"/>
<rect x="419.25" y="481.35" width="10.50" height="2.50" rx="1.25" fill="rgb(110,90,215)" fill-opacity="0.100" filter="url(#b0_8)"/>
<rect x="286.45" y="484.00" width="10.50" height="8.00" rx="4.00" fill="rgb(110,90,215)" fill-opacity="0.060" filter="url(#b1_0)"/>
<rect x="298.52" y="484.00" width="10.50" height="8.00" rx="4.00" fill="rgb(110,90,215)" fill-opacity="0.030" filter="url(#b1_0)"/>
<rect x="310.60" y="484.00" width="10.50" height="8.00" rx="4.00" fill="rgb(110,90,215)" fill-opacity="0.040" filter="url(#b1_0)"/>
<rect x="322.67" y="484.00" width="10.50" height="8.00" rx="4.00" fill="rgb(110,90,215)" fill-opacity="0.080" filter="url(#b1_0)"/>
<rect x="334.74" y="484.00" width="10.50" height="8.00" rx="4.00" fill="rgb(110,90,215)" fill-opacity="0.120" filter="url(#b1_0)"/>
<rect x="346.81" y="484.00" width="10.50" height="8.00" rx="4.00" fill="rgb(110,90,215)" fill-opacity="0.060" filter="url(#b1_0)"/>
<rect x="358.89" y="484.00" width="10.50" height="8.00" rx="4.00" fill="rgb(110,90,215)" fill-opacity="0.050" filter="url(#b1_0)"/>
<rect x="370.96" y="484.00" width="10.50" height="8.00" rx="4.00" fill="rgb(110,90,215)" fill-opacity="0.050" filter="url(#b1_0)"/>
<rect x="383.03" y="484.00" width="10.50" height="8.00" rx="4.00" fill="rgb(110,90,215)" fill-opacity="0.080" filter="url(#b1_0)"/>
<rect x="395.10" y="484.00" width="10.50" height="8.00" rx="4.00" fill="rgb(110,90,215)" fill-opacity="0.050" filter="url(#b1_0)"/>
<rect x="407.18" y="484.00" width="10.50" height="8.00" rx="4.00" fill="rgb(110,90,215)" fill-opacity="0.050" filter="url(#b1_0)"/>
<rect x="419.25" y="484.00" width="10.50" height="8.00" rx="4.00" fill="rgb(110,90,215)" fill-opacity="0.040" filter="url(#b1_0)"/>
<rect x="286.20" y="495.35" width="11.00" height="4.50" rx="2.25" fill="rgb(150,120,230)" fill-opacity="0.350" filter="url(#b0_9)"/>
<rect x="298.27" y="495.35" width="11.00" height="4.50" rx="2.25" fill="rgb(150,120,230)" fill-opacity="0.150" filter="url(#b0_9)"/>
<rect x="310.35" y="495.35" width="11.00" height="4.50" rx="2.25" fill="rgb(150,120,230)" fill-opacity="0.250" filter="url(#b0_9)"/>
<rect x="322.42" y="495.35" width="11.00" height="4.50" rx="2.25" fill="rgb(150,120,230)" fill-opacity="0.400" filter="url(#b0_9)"/>
<rect x="334.49" y="495.35" width="11.00" height="4.50" rx="2.25" fill="rgb(150,120,230)" fill-opacity="0.500" filter="url(#b0_9)"/>
<rect x="346.56" y="495.35" width="11.00" height="4.50" rx="2.25" fill="rgb(150,120,230)" fill-opacity="0.300" filter="url(#b0_9)"/>
<rect x="358.64" y="495.35" width="11.00" height="4.50" rx="2.25" fill="rgb(150,120,230)" fill-opacity="0.400" filter="url(#b0_9)"/>
<rect x="370.71" y="495.35" width="11.00" height="4.50" rx="2.25" fill="rgb(150,120,230)" fill-opacity="0.400" filter="url(#b0_9)"/>
<rect x="382.78" y="495.35" width="11.00" height="4.50" rx="2.25" fill="rgb(150,120,230)" fill-opacity="0.300" filter="url(#b0_9)"/>
<rect x="394.85" y="495.35" width="11.00" height="4.50" rx="2.25" fill="rgb(150,120,230)" fill-opacity="0.450" filter="url(#b0_9)"/>
<rect x="406.93" y="495.35" width="11.00" height="4.50" rx="2.25" fill="rgb(150,120,230)" fill-opacity="0.350" filter="url(#b0_9)"/>
<rect x="419.00" y="495.35" width="11.00" height="4.50" rx="2.25" fill="rgb(150,120,230)" fill-opacity="0.200" filter="url(#b0_9)"/>
<text x="354.70" y="523.68" font-size="9.4" text-anchor="middle" fill="#000">CBS</text>
<text x="242.00" y="542.00" font-size="13.5" font-weight="bold">n</text>
<text x="357.20" y="542.48" font-size="9.4" text-anchor="middle" fill="#000">Kinase domain</text>
<line x1="287.10" y1="545.50" x2="430.40" y2="545.50" stroke="#222" stroke-width="1.25" />
<text x="279.00" y="569.68" font-size="9.4" text-anchor="end" fill="#000">MBP-</text>
<text x="295.12" y="577.30" font-size="9.5" text-anchor="start" transform="rotate(-90 295.12 577.30)">MST2</text>
<text x="307.15" y="577.30" font-size="9.5" text-anchor="start" transform="rotate(-90 307.15 577.30)">K56R</text>
<text x="319.17" y="577.30" font-size="9.5" text-anchor="start" transform="rotate(-90 319.17 577.30)">E70D</text>
<text x="331.20" y="577.30" font-size="9.5" text-anchor="start" transform="rotate(-90 331.20 577.30)">S72P</text>
<text x="343.23" y="577.30" font-size="9.5" text-anchor="start" transform="rotate(-90 343.23 577.30)">A104T</text>
<text x="355.26" y="577.30" font-size="9.5" text-anchor="start" transform="rotate(-90 355.26 577.30)">S106F</text>
<text x="367.28" y="577.30" font-size="9.5" text-anchor="start" transform="rotate(-90 367.28 577.30)">H144Y</text>
<text x="379.31" y="577.30" font-size="9.5" text-anchor="start" transform="rotate(-90 379.31 577.30)">R145K</text>
<text x="391.34" y="577.30" font-size="9.5" text-anchor="start" transform="rotate(-90 391.34 577.30)">D146N</text>
<text x="403.37" y="577.30" font-size="9.5" text-anchor="start" transform="rotate(-90 403.37 577.30)">D146Y</text>
<text x="415.39" y="577.30" font-size="9.5" text-anchor="start" transform="rotate(-90 415.39 577.30)">T180I</text>
<text x="427.42" y="577.30" font-size="9.5" text-anchor="start" transform="rotate(-90 427.42 577.30)">R266I</text>
<text x="436.60" y="573.88" font-size="9.4" text-anchor="start" fill="#000">kDa</text>
<rect x="274.40" y="580.50" width="158.90" height="67.90" fill="#f2f1f4" stroke="#a0a0a0" stroke-width="0.6"/>
<line x1="274.40" y1="580.50" x2="274.40" y2="648.40" stroke="#999" stroke-width="0.7" />
<rect x="277.0" y="580.80" width="7.4" height="4.20" rx="2.5" fill="url(#ladg)" fill-opacity="0.4" filter="url(#b0_6)"/>
<rect x="277.0" y="596.50" width="7.4" height="11.50" rx="2.5" fill="url(#ladg)" fill-opacity="0.6" filter="url(#b0_6)"/>
<rect x="277.0" y="637.00" width="7.4" height="11.00" rx="2.5" fill="url(#ladg)" fill-opacity="0.95" filter="url(#b0_6)"/>
<path d="M286.95,610.00 Q291.70,612.00 296.45,610.00 L296.45,610.90 Q291.70,614.70 286.95,610.90 Z" fill="rgb(110,92,228)" fill-opacity="0.400" filter="url(#b0_8)"/>
<path d="M298.73,610.00 Q303.73,612.00 308.73,610.00 L308.73,610.90 Q303.73,615.10 298.73,610.90 Z" fill="rgb(110,92,228)" fill-opacity="0.600" filter="url(#b0_8)"/>
<path d="M310.75,610.00 Q315.75,612.00 320.75,610.00 L320.75,610.90 Q315.75,615.10 310.75,610.90 Z" fill="rgb(110,92,228)" fill-opacity="0.500" filter="url(#b0_8)"/>
<path d="M323.03,610.00 Q327.78,612.00 332.53,610.00 L332.53,610.90 Q327.78,614.30 323.03,610.90 Z" fill="rgb(110,92,228)" fill-opacity="0.300" filter="url(#b0_8)"/>
<path d="M334.56,610.00 Q339.81,612.00 345.06,610.00 L345.06,610.90 Q339.81,616.30 334.56,610.90 Z" fill="rgb(110,92,228)" fill-opacity="0.750" filter="url(#b0_8)"/>
<path d="M346.84,610.00 Q351.84,612.00 356.84,610.00 L356.84,610.90 Q351.84,614.30 346.84,610.90 Z" fill="rgb(110,92,228)" fill-opacity="0.250" filter="url(#b0_8)"/>
<path d="M358.86,610.00 Q363.86,612.00 368.86,610.00 L368.86,610.90 Q363.86,615.90 358.86,610.90 Z" fill="rgb(110,92,228)" fill-opacity="0.700" filter="url(#b0_8)"/>
<path d="M370.39,610.00 Q375.89,612.00 381.39,610.00 L381.39,610.90 Q375.89,619.50 370.39,610.90 Z" fill="rgb(110,92,228)" fill-opacity="0.850" filter="url(#b0_8)"/>
<path d="M382.92,610.00 Q387.92,612.00 392.92,610.00 L392.92,610.90 Q387.92,615.50 382.92,610.90 Z" fill="rgb(110,92,228)" fill-opacity="0.450" filter="url(#b0_8)"/>
<path d="M393.95,610.00 Q399.95,612.00 405.95,610.00 L405.95,610.90 Q399.95,621.90 393.95,610.90 Z" fill="rgb(110,92,228)" fill-opacity="0.900" filter="url(#b0_8)"/>
<path d="M406.97,610.00 Q411.97,612.00 416.97,610.00 L416.97,610.90 Q411.97,615.90 406.97,610.90 Z" fill="rgb(110,92,228)" fill-opacity="0.500" filter="url(#b0_8)"/>
<path d="M419.00,610.00 Q424.00,612.00 429.00,610.00 L429.00,610.90 Q424.00,615.90 419.00,610.90 Z" fill="rgb(110,92,228)" fill-opacity="0.650" filter="url(#b0_8)"/>
<line x1="433.50" y1="581.20" x2="438.10" y2="581.20" stroke="#111" stroke-width="1.0" />
<text x="438.30" y="584.58" font-size="9.4" text-anchor="start" fill="#000">100</text>
<line x1="433.50" y1="603.00" x2="438.10" y2="603.00" stroke="#111" stroke-width="1.0" />
<text x="438.30" y="606.38" font-size="9.4" text-anchor="start" fill="#000">75</text>
<line x1="433.50" y1="643.60" x2="438.10" y2="643.60" stroke="#111" stroke-width="1.0" />
<text x="438.30" y="646.98" font-size="9.4" text-anchor="start" fill="#000">50</text>
<rect x="286.20" y="628.25" width="11.00" height="3.50" rx="1.75" fill="rgb(120,100,225)" fill-opacity="0.450" filter="url(#b0_8)"/>
<rect x="298.23" y="628.25" width="11.00" height="3.50" rx="1.75" fill="rgb(120,100,225)" fill-opacity="0.550" filter="url(#b0_8)"/>
<rect x="310.25" y="628.25" width="11.00" height="3.50" rx="1.75" fill="rgb(120,100,225)" fill-opacity="0.450" filter="url(#b0_8)"/>
<rect x="322.28" y="628.25" width="11.00" height="3.50" rx="1.75" fill="rgb(120,100,225)" fill-opacity="0.450" filter="url(#b0_8)"/>
<rect x="334.31" y="628.25" width="11.00" height="3.50" rx="1.75" fill="rgb(120,100,225)" fill-opacity="0.400" filter="url(#b0_8)"/>
<rect x="346.34" y="628.25" width="11.00" height="3.50" rx="1.75" fill="rgb(120,100,225)" fill-opacity="0.200" filter="url(#b0_8)"/>
<rect x="358.36" y="628.25" width="11.00" height="3.50" rx="1.75" fill="rgb(120,100,225)" fill-opacity="0.500" filter="url(#b0_8)"/>
<rect x="370.39" y="628.25" width="11.00" height="3.50" rx="1.75" fill="rgb(120,100,225)" fill-opacity="0.550" filter="url(#b0_8)"/>
<rect x="382.42" y="628.25" width="11.00" height="3.50" rx="1.75" fill="rgb(120,100,225)" fill-opacity="0.400" filter="url(#b0_8)"/>
<rect x="394.45" y="627.75" width="11.00" height="4.50" rx="2.25" fill="rgb(120,100,225)" fill-opacity="0.900" filter="url(#b0_8)"/>
<rect x="406.72" y="628.00" width="10.50" height="4.00" rx="2.00" fill="rgb(120,100,225)" fill-opacity="0.850" filter="url(#b0_8)"/>
<rect x="418.50" y="628.25" width="11.00" height="3.50" rx="1.75" fill="rgb(120,100,225)" fill-opacity="0.350" filter="url(#b0_8)"/>
<rect x="286.45" y="633.30" width="10.50" height="3.00" rx="1.50" fill="rgb(110,90,215)" fill-opacity="0.100" filter="url(#b0_8)"/>
<rect x="298.48" y="633.30" width="10.50" height="3.00" rx="1.50" fill="rgb(110,90,215)" fill-opacity="0.150" filter="url(#b0_8)"/>
<rect x="310.50" y="633.30" width="10.50" height="3.00" rx="1.50" fill="rgb(110,90,215)" fill-opacity="0.100" filter="url(#b0_8)"/>
<rect x="322.53" y="633.30" width="10.50" height="3.00" rx="1.50" fill="rgb(110,90,215)" fill-opacity="0.100" filter="url(#b0_8)"/>
<rect x="334.56" y="633.30" width="10.50" height="3.00" rx="1.50" fill="rgb(110,90,215)" fill-opacity="0.200" filter="url(#b0_8)"/>
<rect x="346.59" y="633.30" width="10.50" height="3.00" rx="1.50" fill="rgb(110,90,215)" fill-opacity="0.100" filter="url(#b0_8)"/>
<rect x="358.61" y="633.30" width="10.50" height="3.00" rx="1.50" fill="rgb(110,90,215)" fill-opacity="0.450" filter="url(#b0_8)"/>
<rect x="370.64" y="633.30" width="10.50" height="3.00" rx="1.50" fill="rgb(110,90,215)" fill-opacity="0.450" filter="url(#b0_8)"/>
<rect x="382.67" y="633.30" width="10.50" height="3.00" rx="1.50" fill="rgb(110,90,215)" fill-opacity="0.150" filter="url(#b0_8)"/>
<rect x="394.70" y="633.30" width="10.50" height="3.00" rx="1.50" fill="rgb(110,90,215)" fill-opacity="0.500" filter="url(#b0_8)"/>
<rect x="406.72" y="633.30" width="10.50" height="3.00" rx="1.50" fill="rgb(110,90,215)" fill-opacity="0.200" filter="url(#b0_8)"/>
<rect x="418.75" y="633.30" width="10.50" height="3.00" rx="1.50" fill="rgb(110,90,215)" fill-opacity="0.200" filter="url(#b0_8)"/>
<rect x="286.45" y="639.00" width="10.50" height="5.00" rx="2.50" fill="rgb(110,90,215)" fill-opacity="0.030" filter="url(#b1_0)"/>
<rect x="298.48" y="639.00" width="10.50" height="5.00" rx="2.50" fill="rgb(110,90,215)" fill-opacity="0.050" filter="url(#b1_0)"/>
<rect x="310.50" y="639.00" width="10.50" height="5.00" rx="2.50" fill="rgb(110,90,215)" fill-opacity="0.030" filter="url(#b1_0)"/>
<rect x="322.53" y="639.00" width="10.50" height="5.00" rx="2.50" fill="rgb(110,90,215)" fill-opacity="0.030" filter="url(#b1_0)"/>
<rect x="334.56" y="639.00" width="10.50" height="5.00" rx="2.50" fill="rgb(110,90,215)" fill-opacity="0.100" filter="url(#b1_0)"/>
<rect x="346.59" y="639.00" width="10.50" height="5.00" rx="2.50" fill="rgb(110,90,215)" fill-opacity="0.080" filter="url(#b1_0)"/>
<rect x="358.61" y="639.00" width="10.50" height="5.00" rx="2.50" fill="rgb(110,90,215)" fill-opacity="0.200" filter="url(#b1_0)"/>
<rect x="370.64" y="639.00" width="10.50" height="5.00" rx="2.50" fill="rgb(110,90,215)" fill-opacity="0.200" filter="url(#b1_0)"/>
<rect x="382.67" y="639.00" width="10.50" height="5.00" rx="2.50" fill="rgb(110,90,215)" fill-opacity="0.100" filter="url(#b1_0)"/>
<rect x="394.70" y="639.00" width="10.50" height="5.00" rx="2.50" fill="rgb(110,90,215)" fill-opacity="0.250" filter="url(#b1_0)"/>
<rect x="406.72" y="639.00" width="10.50" height="5.00" rx="2.50" fill="rgb(110,90,215)" fill-opacity="0.100" filter="url(#b1_0)"/>
<rect x="418.75" y="639.00" width="10.50" height="5.00" rx="2.50" fill="rgb(110,90,215)" fill-opacity="0.100" filter="url(#b1_0)"/>
<rect x="286.45" y="615.00" width="10.50" height="6.00" rx="3.00" fill="rgb(110,90,215)" fill-opacity="0.030" filter="url(#b1_0)"/>
<rect x="298.48" y="615.00" width="10.50" height="6.00" rx="3.00" fill="rgb(110,90,215)" fill-opacity="0.050" filter="url(#b1_0)"/>
<rect x="310.50" y="615.00" width="10.50" height="6.00" rx="3.00" fill="rgb(110,90,215)" fill-opacity="0.030" filter="url(#b1_0)"/>
<rect x="322.53" y="615.00" width="10.50" height="6.00" rx="3.00" fill="rgb(110,90,215)" fill-opacity="0.030" filter="url(#b1_0)"/>
<rect x="334.56" y="615.00" width="10.50" height="6.00" rx="3.00" fill="rgb(110,90,215)" fill-opacity="0.100" filter="url(#b1_0)"/>
<rect x="346.59" y="615.00" width="10.50" height="6.00" rx="3.00" fill="rgb(110,90,215)" fill-opacity="0.050" filter="url(#b1_0)"/>
<rect x="358.61" y="615.00" width="10.50" height="6.00" rx="3.00" fill="rgb(110,90,215)" fill-opacity="0.150" filter="url(#b1_0)"/>
<rect x="370.64" y="615.00" width="10.50" height="6.00" rx="3.00" fill="rgb(110,90,215)" fill-opacity="0.150" filter="url(#b1_0)"/>
<rect x="382.67" y="615.00" width="10.50" height="6.00" rx="3.00" fill="rgb(110,90,215)" fill-opacity="0.080" filter="url(#b1_0)"/>
<rect x="394.70" y="615.00" width="10.50" height="6.00" rx="3.00" fill="rgb(110,90,215)" fill-opacity="0.200" filter="url(#b1_0)"/>
<rect x="406.72" y="615.00" width="10.50" height="6.00" rx="3.00" fill="rgb(110,90,215)" fill-opacity="0.080" filter="url(#b1_0)"/>
<rect x="418.75" y="615.00" width="10.50" height="6.00" rx="3.00" fill="rgb(110,90,215)" fill-opacity="0.080" filter="url(#b1_0)"/>
<text x="354.90" y="656.88" font-size="9.4" text-anchor="middle" fill="#000">CBS</text>
<text x="465.00" y="405.10" font-size="13.5" font-weight="bold">m</text>
<line x1="514.60" y1="406.10" x2="514.60" y2="501.30" stroke="#555" stroke-width="0.8" />
<line x1="514.60" y1="501.30" x2="619.60" y2="501.30" stroke="#555" stroke-width="0.8" />
<line x1="511.60" y1="406.10" x2="514.60" y2="406.10" stroke="#555" stroke-width="0.8" />
<text x="510.60" y="409.48" font-size="9.4" text-anchor="end" fill="#000">30</text>
<line x1="511.60" y1="425.14" x2="514.60" y2="425.14" stroke="#555" stroke-width="0.8" />
<text x="510.60" y="428.52" font-size="9.4" text-anchor="end" fill="#000">20</text>
<line x1="511.60" y1="444.18" x2="514.60" y2="444.18" stroke="#555" stroke-width="0.8" />
<text x="510.60" y="447.56" font-size="9.4" text-anchor="end" fill="#000">10</text>
<line x1="511.60" y1="463.22" x2="514.60" y2="463.22" stroke="#555" stroke-width="0.8" />
<text x="510.60" y="466.60" font-size="9.4" text-anchor="end" fill="#000">0</text>
<line x1="511.60" y1="482.26" x2="514.60" y2="482.26" stroke="#555" stroke-width="0.8" />
<text x="510.60" y="485.64" font-size="9.4" text-anchor="end" fill="#000">-10</text>
<line x1="511.60" y1="501.30" x2="514.60" y2="501.30" stroke="#555" stroke-width="0.8" />
<text x="510.60" y="504.68" font-size="9.4" text-anchor="end" fill="#000">-20</text>
<line x1="514.60" y1="501.30" x2="514.60" y2="504.30" stroke="#555" stroke-width="0.8" />
<text x="517.20" y="511.50" font-size="9.4" text-anchor="end" transform="rotate(-45 517.20 511.50)">190</text>
<line x1="529.60" y1="501.30" x2="529.60" y2="504.30" stroke="#555" stroke-width="0.8" />
<text x="532.20" y="511.50" font-size="9.4" text-anchor="end" transform="rotate(-45 532.20 511.50)">200</text>
<line x1="544.60" y1="501.30" x2="544.60" y2="504.30" stroke="#555" stroke-width="0.8" />
<text x="547.20" y="511.50" font-size="9.4" text-anchor="end" transform="rotate(-45 547.20 511.50)">210</text>
<line x1="559.60" y1="501.30" x2="559.60" y2="504.30" stroke="#555" stroke-width="0.8" />
<text x="562.20" y="511.50" font-size="9.4" text-anchor="end" transform="rotate(-45 562.20 511.50)">220</text>
<line x1="574.60" y1="501.30" x2="574.60" y2="504.30" stroke="#555" stroke-width="0.8" />
<text x="577.20" y="511.50" font-size="9.4" text-anchor="end" transform="rotate(-45 577.20 511.50)">230</text>
<line x1="589.60" y1="501.30" x2="589.60" y2="504.30" stroke="#555" stroke-width="0.8" />
<text x="592.20" y="511.50" font-size="9.4" text-anchor="end" transform="rotate(-45 592.20 511.50)">240</text>
<line x1="604.60" y1="501.30" x2="604.60" y2="504.30" stroke="#555" stroke-width="0.8" />
<text x="607.20" y="511.50" font-size="9.4" text-anchor="end" transform="rotate(-45 607.20 511.50)">250</text>
<line x1="619.60" y1="501.30" x2="619.60" y2="504.30" stroke="#555" stroke-width="0.8" />
<text x="622.20" y="511.50" font-size="9.4" text-anchor="end" transform="rotate(-45 622.20 511.50)">260</text>
<text x="490.90" y="449.18" font-size="9.4" text-anchor="middle" fill="#000" transform="rotate(-90 490.90 445.80)">CD (mdeg)</text>
<text x="618.60" y="497.88" font-size="9.4" text-anchor="middle" fill="#000">Wavelength (nm)</text>
<path d="M514.60,440.37 L516.10,430.95 L519.85,421.62 L521.35,419.43 L523.60,422.49 L525.10,430.38 L528.10,446.58 L530.35,457.96 L532.30,463.22 L535.60,473.93 L538.60,482.26 L541.60,487.02 L544.60,486.31 L547.60,485.12 L550.60,485.35 L553.60,488.73 L556.60,489.63 L559.60,490.45 L562.60,490.99 L565.60,489.90 L568.60,487.18 L571.60,481.73 L574.60,476.83 L577.60,472.75 L582.10,469.21 L586.60,467.03 L591.10,466.01 L597.10,464.44 L604.60,464.74 L612.10,464.74 L619.60,464.74" fill="none" stroke="#a0a0a0" stroke-width="1.0" stroke-linejoin="round"/>
<path d="M514.60,449.89 L516.10,449.04 L517.60,448.75 L519.10,447.99 L521.35,449.05 L525.10,451.80 L528.10,457.43 L530.35,461.39 L532.30,463.22 L535.60,467.76 L538.60,471.29 L541.60,473.31 L544.60,473.01 L547.60,472.50 L550.60,472.60 L553.60,473.79 L556.60,473.93 L559.60,474.26 L562.60,474.48 L565.60,474.04 L568.60,472.94 L571.60,470.73 L574.60,468.74 L577.60,467.09 L582.10,465.65 L586.60,464.77 L591.10,464.26 L597.10,463.52 L604.60,463.60 L612.10,463.60 L619.60,463.60" fill="none" stroke="#ffd050" stroke-width="1.0" stroke-linejoin="round"/>
<path d="M514.60,444.18 L516.10,441.61 L519.10,439.71 L520.60,438.47 L522.85,440.20 L525.10,444.66 L528.10,453.81 L530.35,460.25 L532.30,463.22 L535.60,469.22 L538.60,473.88 L541.60,476.55 L544.60,476.15 L547.60,475.48 L550.60,475.62 L553.60,477.02 L556.60,477.07 L559.60,477.50 L562.60,477.79 L565.60,477.21 L568.60,475.79 L571.60,472.93 L574.60,470.36 L577.60,468.22 L582.10,466.36 L586.60,465.22 L591.10,464.59 L597.10,463.68 L604.60,463.79 L612.10,463.79 L619.60,463.79" fill="none" stroke="#50e850" stroke-width="1.0" stroke-linejoin="round"/>
<path d="M514.60,442.28 L516.10,439.71 L519.10,437.90 L520.60,436.56 L522.85,438.43 L525.10,443.23 L528.10,453.09 L530.35,460.02 L532.30,463.22 L535.60,470.07 L538.60,475.41 L541.60,478.45 L544.60,478.00 L547.60,477.23 L550.60,477.39 L553.60,479.40 L556.60,479.84 L559.60,480.36 L562.60,480.70 L565.60,480.01 L568.60,478.30 L571.60,474.87 L574.60,471.79 L577.60,469.22 L582.10,466.99 L586.60,465.62 L591.10,464.82 L597.10,463.68 L604.60,463.79 L612.10,463.79 L619.60,463.79" fill="none" stroke="#50c8ff" stroke-width="1.0" stroke-linejoin="round"/>
<path d="M514.60,438.47 L516.10,436.75 L519.10,436.09 L520.60,434.66 L522.85,436.66 L525.10,441.80 L528.10,452.37 L530.35,459.79 L532.30,463.22 L535.60,471.36 L538.60,477.69 L541.60,481.31 L544.60,480.77 L547.60,479.86 L550.60,480.04 L553.60,482.26 L556.60,482.61 L559.60,483.21 L562.60,483.61 L565.60,482.81 L568.60,480.81 L571.60,476.81 L574.60,473.22 L577.60,470.22 L582.10,467.62 L586.60,466.02 L591.10,465.20 L597.10,463.98 L604.60,464.17 L612.10,464.17 L619.60,464.17" fill="none" stroke="#7878ff" stroke-width="1.0" stroke-linejoin="round"/>
<path d="M514.60,436.56 L516.10,434.85 L519.10,434.28 L520.60,432.76 L522.85,434.89 L525.10,440.37 L528.10,451.64 L530.35,459.56 L532.30,463.22 L535.60,470.93 L538.60,476.93 L541.60,480.36 L544.60,479.84 L547.60,478.99 L550.60,479.16 L553.60,481.31 L556.60,481.69 L559.60,482.26 L562.60,482.64 L565.60,481.88 L568.60,479.98 L571.60,476.17 L574.60,472.74 L577.60,469.88 L582.10,467.41 L586.60,465.89 L591.10,465.20 L597.10,464.13 L604.60,464.36 L612.10,464.36 L619.60,464.36" fill="none" stroke="#ff9a20" stroke-width="1.0" stroke-linejoin="round"/>
<path d="M514.60,438.47 L516.10,436.75 L519.10,436.09 L520.60,434.66 L522.85,436.66 L525.10,441.80 L528.10,452.37 L530.35,459.79 L532.30,463.22 L535.60,471.36 L538.60,477.69 L541.60,481.31 L544.60,480.77 L547.60,479.86 L550.60,480.04 L553.60,481.78 L556.60,481.69 L559.60,482.26 L562.60,482.64 L565.60,481.88 L568.60,479.98 L571.60,476.17 L574.60,472.74 L577.60,469.88 L582.10,467.41 L586.60,465.89 L591.10,465.20 L597.10,464.13 L604.60,464.36 L612.10,464.36 L619.60,464.36" fill="none" stroke="#209898" stroke-width="1.0" stroke-linejoin="round"/>
<path d="M514.60,436.56 L516.10,434.85 L519.10,434.28 L520.60,432.76 L522.85,434.89 L525.10,440.37 L528.10,451.64 L530.35,459.56 L532.30,463.22 L535.60,472.22 L538.60,479.21 L541.60,483.21 L544.60,482.61 L547.60,481.61 L550.60,481.81 L553.60,483.69 L556.60,483.54 L559.60,484.16 L562.60,484.58 L565.60,483.75 L568.60,481.65 L571.60,477.46 L574.60,473.69 L577.60,470.55 L582.10,467.83 L586.60,466.15 L591.10,465.43 L597.10,464.29 L604.60,464.55 L612.10,464.55 L619.60,464.55" fill="none" stroke="#a00000" stroke-width="1.0" stroke-linejoin="round"/>
<path d="M514.60,444.18 L516.10,440.75 L519.10,437.90 L520.60,436.56 L522.85,438.43 L525.10,443.23 L528.10,453.09 L530.35,460.02 L532.30,463.22 L535.60,471.79 L538.60,478.45 L541.60,482.26 L544.60,481.69 L547.60,480.74 L550.60,480.93 L553.60,483.69 L556.60,484.46 L559.60,485.12 L562.60,485.55 L565.60,484.68 L568.60,482.49 L571.60,478.11 L574.60,474.17 L577.60,470.88 L582.10,468.04 L586.60,466.29 L591.10,465.43 L597.10,464.13 L604.60,464.36 L612.10,464.36 L619.60,464.36" fill="none" stroke="#1a1aff" stroke-width="1.0" stroke-linejoin="round"/>
<path d="M514.60,432.76 L516.10,431.90 L517.60,432.47 L519.10,430.85 L521.35,433.12 L525.10,438.94 L528.10,450.92 L530.35,459.34 L532.30,463.22 L535.60,472.22 L538.60,479.21 L541.60,483.21 L544.60,482.61 L547.60,481.61 L550.60,481.81 L553.60,484.16 L556.60,484.46 L559.60,485.12 L562.60,485.55 L565.60,484.68 L568.60,482.49 L571.60,478.11 L574.60,474.17 L577.60,470.88 L582.10,468.04 L586.60,466.29 L591.10,465.43 L597.10,464.13 L604.60,464.36 L612.10,464.36 L619.60,464.36" fill="none" stroke="#9010ff" stroke-width="1.0" stroke-linejoin="round"/>
<path d="M514.60,432.76 L516.10,431.04 L517.60,430.66 L519.10,428.95 L521.35,431.35 L525.10,437.52 L528.10,450.20 L530.35,459.11 L532.30,463.22 L535.60,471.79 L538.60,478.45 L541.60,482.26 L544.60,481.69 L547.60,480.74 L550.60,480.93 L553.60,484.16 L556.60,485.38 L559.60,486.07 L562.60,486.52 L565.60,485.61 L568.60,483.33 L571.60,478.76 L574.60,474.64 L577.60,471.22 L582.10,468.25 L586.60,466.42 L591.10,465.58 L597.10,464.29 L604.60,464.55 L612.10,464.55 L619.60,464.55" fill="none" stroke="#ff10ff" stroke-width="1.0" stroke-linejoin="round"/>
<path d="M514.60,434.66 L516.10,432.95 L519.10,432.47 L520.60,430.85 L522.85,433.12 L525.10,438.94 L528.10,450.92 L530.35,459.34 L532.30,463.22 L535.60,473.50 L538.60,481.50 L541.60,486.07 L544.60,485.38 L547.60,484.24 L550.60,484.47 L553.60,487.50 L556.60,488.15 L559.60,488.92 L562.60,489.44 L565.60,488.41 L568.60,485.84 L571.60,480.70 L574.60,476.07 L577.60,472.22 L582.10,468.87 L586.60,466.82 L591.10,466.04 L597.10,464.74 L604.60,465.12 L612.10,465.12 L619.60,465.12" fill="none" stroke="#ff6868" stroke-width="1.0" stroke-linejoin="round"/>
<line x1="582.00" y1="405.90" x2="592.50" y2="405.90" stroke="#a0a0a0" stroke-width="1.9" />
<text x="596.00" y="408.89" font-size="8.3" text-anchor="start" fill="#000">MST1</text>
<line x1="582.00" y1="415.10" x2="592.50" y2="415.10" stroke="#7878ff" stroke-width="1.9" />
<text x="596.00" y="418.09" font-size="8.3" text-anchor="start" fill="#000">K59R</text>
<line x1="582.00" y1="424.40" x2="592.50" y2="424.40" stroke="#50c8ff" stroke-width="1.9" />
<text x="596.00" y="427.39" font-size="8.3" text-anchor="start" fill="#000">V44A</text>
<line x1="582.00" y1="433.50" x2="592.50" y2="433.50" stroke="#50e850" stroke-width="1.9" />
<text x="596.00" y="436.49" font-size="8.3" text-anchor="start" fill="#000">K46N</text>
<line x1="582.00" y1="442.90" x2="592.50" y2="442.90" stroke="#ff6868" stroke-width="1.9" />
<text x="596.00" y="445.89" font-size="8.3" text-anchor="start" fill="#000">D97V</text>
<line x1="582.00" y1="452.50" x2="592.50" y2="452.50" stroke="#ffd050" stroke-width="1.9" />
<text x="596.00" y="455.49" font-size="8.3" text-anchor="start" fill="#000">W99L</text>
<line x1="628.20" y1="405.90" x2="638.70" y2="405.90" stroke="#1a1aff" stroke-width="1.9" />
<text x="642.20" y="408.89" font-size="8.3" text-anchor="start" fill="#000">I155T</text>
<line x1="628.20" y1="415.10" x2="638.70" y2="415.10" stroke="#9010ff" stroke-width="1.9" />
<text x="642.20" y="418.09" font-size="8.3" text-anchor="start" fill="#000">D167N</text>
<line x1="628.20" y1="424.40" x2="638.70" y2="424.40" stroke="#ff10ff" stroke-width="1.9" />
<text x="642.20" y="427.39" font-size="8.3" text-anchor="start" fill="#000">R181Q</text>
<line x1="628.20" y1="433.50" x2="638.70" y2="433.50" stroke="#ff9a20" stroke-width="1.9" />
<text x="642.20" y="436.49" font-size="8.3" text-anchor="start" fill="#000">E219K</text>
<line x1="628.20" y1="442.90" x2="638.70" y2="442.90" stroke="#209898" stroke-width="1.9" />
<text x="642.20" y="445.89" font-size="8.3" text-anchor="start" fill="#000">P223S</text>
<line x1="628.20" y1="452.50" x2="638.70" y2="452.50" stroke="#a00000" stroke-width="1.9" />
<text x="642.20" y="455.49" font-size="8.3" text-anchor="start" fill="#000">P229Q</text>
<text x="465.00" y="542.00" font-size="13.5" font-weight="bold">o</text>
<line x1="514.60" y1="544.20" x2="514.60" y2="639.30" stroke="#555" stroke-width="0.8" />
<line x1="514.60" y1="639.30" x2="619.60" y2="639.30" stroke="#555" stroke-width="0.8" />
<line x1="511.60" y1="544.20" x2="514.60" y2="544.20" stroke="#555" stroke-width="0.8" />
<text x="510.60" y="547.58" font-size="9.4" text-anchor="end" fill="#000">40</text>
<line x1="511.60" y1="560.05" x2="514.60" y2="560.05" stroke="#555" stroke-width="0.8" />
<text x="510.60" y="563.43" font-size="9.4" text-anchor="end" fill="#000">30</text>
<line x1="511.60" y1="575.90" x2="514.60" y2="575.90" stroke="#555" stroke-width="0.8" />
<text x="510.60" y="579.28" font-size="9.4" text-anchor="end" fill="#000">20</text>
<line x1="511.60" y1="591.75" x2="514.60" y2="591.75" stroke="#555" stroke-width="0.8" />
<text x="510.60" y="595.13" font-size="9.4" text-anchor="end" fill="#000">10</text>
<line x1="511.60" y1="607.60" x2="514.60" y2="607.60" stroke="#555" stroke-width="0.8" />
<text x="510.60" y="610.98" font-size="9.4" text-anchor="end" fill="#000">0</text>
<line x1="511.60" y1="623.45" x2="514.60" y2="623.45" stroke="#555" stroke-width="0.8" />
<text x="510.60" y="626.83" font-size="9.4" text-anchor="end" fill="#000">-10</text>
<line x1="511.60" y1="639.30" x2="514.60" y2="639.30" stroke="#555" stroke-width="0.8" />
<text x="510.60" y="642.68" font-size="9.4" text-anchor="end" fill="#000">-20</text>
<line x1="514.60" y1="639.30" x2="514.60" y2="642.30" stroke="#555" stroke-width="0.8" />
<text x="517.20" y="649.50" font-size="9.4" text-anchor="end" transform="rotate(-45 517.20 649.50)">190</text>
<line x1="529.60" y1="639.30" x2="529.60" y2="642.30" stroke="#555" stroke-width="0.8" />
<text x="532.20" y="649.50" font-size="9.4" text-anchor="end" transform="rotate(-45 532.20 649.50)">200</text>
<line x1="544.60" y1="639.30" x2="544.60" y2="642.30" stroke="#555" stroke-width="0.8" />
<text x="547.20" y="649.50" font-size="9.4" text-anchor="end" transform="rotate(-45 547.20 649.50)">210</text>
<line x1="559.60" y1="639.30" x2="559.60" y2="642.30" stroke="#555" stroke-width="0.8" />
<text x="562.20" y="649.50" font-size="9.4" text-anchor="end" transform="rotate(-45 562.20 649.50)">220</text>
<line x1="574.60" y1="639.30" x2="574.60" y2="642.30" stroke="#555" stroke-width="0.8" />
<text x="577.20" y="649.50" font-size="9.4" text-anchor="end" transform="rotate(-45 577.20 649.50)">230</text>
<line x1="589.60" y1="639.30" x2="589.60" y2="642.30" stroke="#555" stroke-width="0.8" />
<text x="592.20" y="649.50" font-size="9.4" text-anchor="end" transform="rotate(-45 592.20 649.50)">240</text>
<line x1="604.60" y1="639.30" x2="604.60" y2="642.30" stroke="#555" stroke-width="0.8" />
<text x="607.20" y="649.50" font-size="9.4" text-anchor="end" transform="rotate(-45 607.20 649.50)">250</text>
<line x1="619.60" y1="639.30" x2="619.60" y2="642.30" stroke="#555" stroke-width="0.8" />
<text x="622.20" y="649.50" font-size="9.4" text-anchor="end" transform="rotate(-45 622.20 649.50)">260</text>
<text x="490.90" y="594.68" font-size="9.4" text-anchor="middle" fill="#000" transform="rotate(-90 490.90 591.30)">CD (mdeg)</text>
<text x="618.60" y="634.88" font-size="9.4" text-anchor="middle" fill="#000">Wavelength (nm)</text>
<path d="M514.60,598.09 L516.10,598.09 L516.10,598.57 L517.60,598.09 L519.85,598.76 L525.10,600.47 L528.10,603.99 L530.35,606.46 L532.30,607.60 L535.60,610.10 L538.60,612.04 L541.60,613.15 L544.60,612.98 L547.60,612.70 L550.60,612.76 L553.60,613.54 L556.60,613.75 L559.60,613.94 L562.60,614.07 L565.60,613.81 L568.60,613.18 L571.60,611.91 L574.60,610.77 L577.60,609.82 L582.10,608.99 L586.60,608.49 L591.10,608.11 L597.10,607.60 L604.60,607.60 L612.10,607.60 L619.60,607.60" fill="none" stroke="#ffd050" stroke-width="1.0" stroke-linejoin="round"/>
<path d="M514.60,588.58 L516.10,587.87 L519.10,588.03 L520.60,587.00 L522.85,588.44 L525.10,592.15 L528.10,599.77 L530.35,605.13 L532.30,607.60 L535.60,611.17 L538.60,613.94 L541.60,615.52 L544.60,615.29 L547.60,614.89 L550.60,614.97 L553.60,615.92 L556.60,616.06 L559.60,616.32 L562.60,616.49 L565.60,616.14 L568.60,615.27 L571.60,613.53 L574.60,611.96 L577.60,610.65 L582.10,609.52 L586.60,608.82 L591.10,608.30 L597.10,607.60 L604.60,607.60 L612.10,607.60 L619.60,607.60" fill="none" stroke="#ff10ff" stroke-width="1.0" stroke-linejoin="round"/>
<path d="M514.60,585.41 L516.10,583.98 L519.10,583.51 L520.60,582.24 L522.85,584.02 L525.10,588.58 L528.10,597.96 L530.35,604.56 L532.30,607.60 L535.60,612.59 L538.60,616.48 L541.60,618.69 L544.60,618.36 L547.60,617.81 L550.60,617.92 L553.60,619.88 L556.60,620.67 L559.60,621.07 L562.60,621.34 L565.60,620.80 L568.60,619.46 L571.60,616.76 L574.60,614.34 L577.60,612.32 L582.10,610.56 L586.60,609.49 L591.10,608.74 L597.10,607.73 L604.60,607.76 L612.10,607.76 L619.60,607.76" fill="none" stroke="#9010ff" stroke-width="1.0" stroke-linejoin="round"/>
<path d="M514.60,591.75 L516.10,588.90 L519.10,586.52 L520.60,585.41 L522.85,586.96 L525.10,590.96 L528.10,599.17 L530.35,604.94 L532.30,607.60 L535.60,612.59 L538.60,616.48 L541.60,618.69 L544.60,618.36 L547.60,617.81 L550.60,617.92 L553.60,619.09 L556.60,619.13 L559.60,619.49 L562.60,619.73 L565.60,619.25 L568.60,618.06 L571.60,615.68 L574.60,613.54 L577.60,611.76 L582.10,610.22 L586.60,609.26 L591.10,608.61 L597.10,607.73 L604.60,607.76 L612.10,607.76 L619.60,607.76" fill="none" stroke="#a00000" stroke-width="1.0" stroke-linejoin="round"/>
<path d="M514.60,590.16 L516.10,588.74 L519.10,588.03 L520.60,587.00 L522.85,588.44 L525.10,592.15 L528.10,599.77 L530.35,605.13 L532.30,607.60 L535.60,612.95 L538.60,617.11 L541.60,619.49 L544.60,619.13 L547.60,618.54 L550.60,618.66 L553.60,620.28 L556.60,620.67 L559.60,621.07 L562.60,621.34 L565.60,620.80 L568.60,619.46 L571.60,616.76 L574.60,614.34 L577.60,612.32 L582.10,610.56 L586.60,609.49 L591.10,608.74 L597.10,607.73 L604.60,607.76 L612.10,607.76 L619.60,607.76" fill="none" stroke="#209898" stroke-width="1.0" stroke-linejoin="round"/>
<path d="M514.60,590.16 L516.10,589.45 L519.10,589.53 L520.60,588.58 L522.85,589.91 L525.10,593.34 L528.10,600.37 L530.35,605.32 L532.30,607.60 L535.60,612.24 L538.60,615.84 L541.60,617.90 L544.60,617.59 L547.60,617.08 L550.60,617.18 L553.60,618.30 L556.60,618.36 L559.60,618.69 L562.60,618.92 L565.60,618.47 L568.60,617.36 L571.60,615.14 L574.60,613.15 L577.60,611.48 L582.10,610.04 L586.60,609.15 L591.10,608.55 L597.10,607.73 L604.60,607.76 L612.10,607.76 L619.60,607.76" fill="none" stroke="#ff6868" stroke-width="1.0" stroke-linejoin="round"/>
<path d="M514.60,582.24 L516.10,577.96 L519.10,574.47 L520.60,572.73 L522.85,575.17 L525.10,581.45 L528.10,594.35 L530.35,603.42 L532.30,607.60 L535.60,615.45 L538.60,621.55 L541.60,625.03 L544.60,624.51 L547.60,623.64 L550.60,623.81 L553.60,625.83 L556.60,626.05 L559.60,626.62 L562.60,627.00 L565.60,626.24 L568.60,624.34 L571.60,620.53 L574.60,617.11 L577.60,614.26 L582.10,611.78 L586.60,610.26 L591.10,609.25 L597.10,607.85 L604.60,607.92 L612.10,607.92 L619.60,607.92" fill="none" stroke="#ff9a20" stroke-width="1.0" stroke-linejoin="round"/>
<path d="M514.60,575.90 L516.10,572.33 L519.10,569.96 L520.60,567.98 L522.85,570.75 L525.10,577.88 L528.10,592.54 L530.35,602.85 L532.30,607.60 L535.60,616.16 L538.60,622.82 L541.60,626.62 L544.60,626.05 L547.60,625.10 L550.60,625.29 L553.60,627.41 L556.60,627.59 L559.60,628.20 L562.60,628.62 L565.60,627.79 L568.60,625.73 L571.60,621.61 L574.60,617.90 L577.60,614.81 L582.10,612.13 L586.60,610.48 L591.10,609.38 L597.10,607.85 L604.60,607.92 L612.10,607.92 L619.60,607.92" fill="none" stroke="#50e850" stroke-width="1.0" stroke-linejoin="round"/>
<path d="M514.60,572.73 L516.10,572.02 L519.10,572.97 L520.60,571.14 L522.85,573.70 L525.10,580.26 L528.10,593.75 L530.35,603.23 L532.30,607.60 L535.60,616.52 L538.60,623.45 L541.60,627.41 L544.60,626.82 L547.60,625.83 L550.60,626.03 L553.60,628.20 L556.60,628.36 L559.60,629.00 L562.60,629.43 L565.60,628.57 L568.60,626.43 L571.60,622.15 L574.60,618.30 L577.60,615.09 L582.10,612.31 L586.60,610.60 L591.10,609.44 L597.10,607.85 L604.60,607.92 L612.10,607.92 L619.60,607.92" fill="none" stroke="#7878ff" stroke-width="1.0" stroke-linejoin="round"/>
<path d="M514.60,575.90 L516.10,574.47 L519.10,574.47 L520.60,572.73 L522.85,575.17 L525.10,581.45 L528.10,594.35 L530.35,603.42 L532.30,607.60 L535.60,616.16 L538.60,622.82 L541.60,626.62 L544.60,626.05 L547.60,625.10 L550.60,625.29 L553.60,627.41 L556.60,627.59 L559.60,628.20 L562.60,628.62 L565.60,627.79 L568.60,625.73 L571.60,621.61 L574.60,617.90 L577.60,614.81 L582.10,612.13 L586.60,610.48 L591.10,609.38 L597.10,607.85 L604.60,607.92 L612.10,607.92 L619.60,607.92" fill="none" stroke="#1a1aff" stroke-width="1.0" stroke-linejoin="round"/>
<path d="M514.60,572.73 L516.10,567.74 L516.85,563.93 L518.35,561.63 L520.60,564.85 L525.10,573.13 L528.10,590.13 L530.35,602.08 L532.30,607.60 L535.60,616.52 L538.60,623.45 L541.60,627.41 L544.60,626.82 L547.60,625.83 L550.60,626.03 L553.60,627.81 L556.60,627.59 L559.60,628.20 L562.60,628.62 L565.60,627.79 L568.60,625.73 L571.60,621.61 L574.60,617.90 L577.60,614.81 L582.10,612.13 L586.60,610.48 L591.10,609.44 L597.10,607.98 L604.60,608.08 L612.10,608.08 L619.60,608.08" fill="none" stroke="#a0a0a0" stroke-width="1.0" stroke-linejoin="round"/>
<path d="M514.60,572.73 L516.10,569.88 L520.60,568.45 L522.10,566.39 L524.35,569.27 L525.10,576.69 L528.10,591.94 L530.35,602.65 L532.30,607.60 L535.60,616.87 L538.60,624.08 L541.60,628.20 L544.60,627.59 L547.60,626.56 L550.60,626.76 L553.60,629.39 L556.60,629.89 L559.60,630.58 L562.60,631.04 L565.60,630.12 L568.60,627.82 L571.60,623.23 L574.60,619.09 L577.60,615.64 L582.10,612.66 L586.60,610.82 L591.10,609.63 L597.10,607.98 L604.60,608.08 L612.10,608.08 L619.60,608.08" fill="none" stroke="#50c8ff" stroke-width="1.0" stroke-linejoin="round"/>
<line x1="582.00" y1="543.30" x2="592.50" y2="543.30" stroke="#a0a0a0" stroke-width="1.9" />
<text x="596.00" y="546.29" font-size="8.3" text-anchor="start" fill="#000">MST2</text>
<line x1="582.00" y1="552.70" x2="592.50" y2="552.70" stroke="#7878ff" stroke-width="1.9" />
<text x="596.00" y="555.69" font-size="8.3" text-anchor="start" fill="#000">K56R</text>
<line x1="582.00" y1="561.70" x2="592.50" y2="561.70" stroke="#50c8ff" stroke-width="1.9" />
<text x="596.00" y="564.69" font-size="8.3" text-anchor="start" fill="#000">E70D</text>
<line x1="582.00" y1="571.30" x2="592.50" y2="571.30" stroke="#50e850" stroke-width="1.9" />
<text x="596.00" y="574.29" font-size="8.3" text-anchor="start" fill="#000">S72P</text>
<line x1="582.00" y1="580.80" x2="592.50" y2="580.80" stroke="#ff6868" stroke-width="1.9" />
<text x="596.00" y="583.79" font-size="8.3" text-anchor="start" fill="#000">A104T</text>
<line x1="582.00" y1="590.70" x2="592.50" y2="590.70" stroke="#ffd050" stroke-width="1.9" />
<text x="596.00" y="593.69" font-size="8.3" text-anchor="start" fill="#000">S106F</text>
<line x1="628.20" y1="543.30" x2="638.70" y2="543.30" stroke="#1a1aff" stroke-width="1.9" />
<text x="642.20" y="546.29" font-size="8.3" text-anchor="start" fill="#000">H144Y</text>
<line x1="628.20" y1="552.70" x2="638.70" y2="552.70" stroke="#9010ff" stroke-width="1.9" />
<text x="642.20" y="555.69" font-size="8.3" text-anchor="start" fill="#000">R145K</text>
<line x1="628.20" y1="561.70" x2="638.70" y2="561.70" stroke="#ff10ff" stroke-width="1.9" />
<text x="642.20" y="564.69" font-size="8.3" text-anchor="start" fill="#000">D146N</text>
<line x1="628.20" y1="571.30" x2="638.70" y2="571.30" stroke="#ff9a20" stroke-width="1.9" />
<text x="642.20" y="574.29" font-size="8.3" text-anchor="start" fill="#000">D146Y</text>
<line x1="628.20" y1="580.80" x2="638.70" y2="580.80" stroke="#209898" stroke-width="1.9" />
<text x="642.20" y="583.79" font-size="8.3" text-anchor="start" fill="#000">T180I</text>
<line x1="628.20" y1="590.70" x2="638.70" y2="590.70" stroke="#a00000" stroke-width="1.9" />
<text x="642.20" y="593.69" font-size="8.3" text-anchor="start" fill="#000">R266I</text>
</svg>
</body></html>
